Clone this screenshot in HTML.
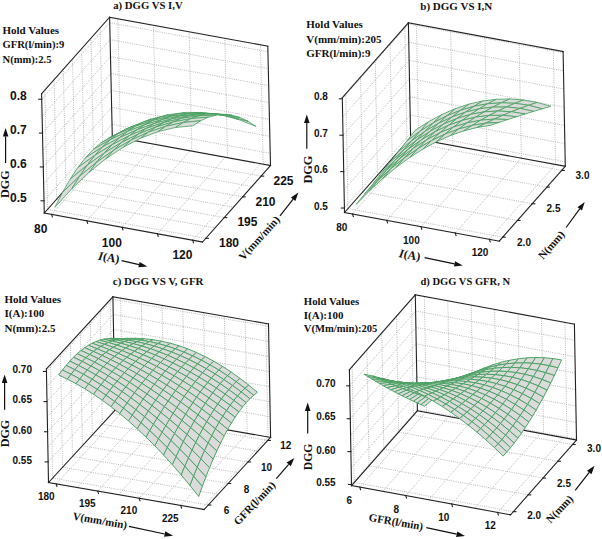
<!DOCTYPE html>
<html><head><meta charset="utf-8"><style>
html,body{margin:0;padding:0;background:#fff;width:602px;height:539px;overflow:hidden}
svg{display:block}
.g{stroke:#a8a8a8;stroke-width:0.8;stroke-dasharray:1 1.2;fill:none}
.e{stroke:#222;stroke-width:1.1;fill:none;stroke-linecap:square}
.s{fill:#dbdbdb;stroke:#48a060;stroke-width:0.95;stroke-linejoin:round}
.ar{stroke:#111;stroke-width:1.2}
.ah{fill:#111}
text{fill:#111}
</style></head><body>
<svg width="602" height="539" viewBox="0 0 602 539">
<line x1="51.58" y1="214.33" x2="119.58" y2="137.83" class="g"/>
<line x1="86.86" y1="220.8" x2="154.86" y2="144.3" class="g"/>
<line x1="122.13" y1="227.27" x2="190.13" y2="150.77" class="g"/>
<line x1="157.41" y1="233.74" x2="225.41" y2="157.24" class="g"/>
<line x1="192.69" y1="240.2" x2="260.69" y2="163.7" class="g"/>
<line x1="47.56" y1="209.33" x2="205.76" y2="238.33" class="g"/>
<line x1="56.78" y1="198.96" x2="214.98" y2="227.96" class="g"/>
<line x1="65.99" y1="188.6" x2="224.19" y2="217.6" class="g"/>
<line x1="75.21" y1="178.23" x2="233.41" y2="207.23" class="g"/>
<line x1="84.42" y1="167.87" x2="242.62" y2="196.87" class="g"/>
<line x1="93.63" y1="157.5" x2="251.83" y2="186.5" class="g"/>
<line x1="102.85" y1="147.13" x2="261.05" y2="176.13" class="g"/>
<line x1="120.47" y1="138" x2="117.77" y2="18.7" class="g"/>
<line x1="156.15" y1="144.54" x2="153.45" y2="25.24" class="g"/>
<line x1="191.83" y1="151.08" x2="189.13" y2="31.78" class="g"/>
<line x1="227.51" y1="157.62" x2="224.81" y2="38.32" class="g"/>
<line x1="263.19" y1="164.16" x2="260.49" y2="44.86" class="g"/>
<line x1="112.02" y1="124.28" x2="270.22" y2="153.28" class="g"/>
<line x1="111.64" y1="107.36" x2="269.84" y2="136.36" class="g"/>
<line x1="111.26" y1="90.44" x2="269.46" y2="119.44" class="g"/>
<line x1="110.87" y1="73.52" x2="269.07" y2="102.52" class="g"/>
<line x1="110.49" y1="56.59" x2="268.69" y2="85.59" class="g"/>
<line x1="110.11" y1="39.67" x2="268.31" y2="68.67" class="g"/>
<line x1="109.73" y1="22.75" x2="267.93" y2="51.75" class="g"/>
<line x1="47.56" y1="209.33" x2="44.86" y2="90.03" class="g"/>
<line x1="56.78" y1="198.96" x2="54.08" y2="79.66" class="g"/>
<line x1="65.99" y1="188.6" x2="63.29" y2="69.3" class="g"/>
<line x1="75.21" y1="178.23" x2="72.51" y2="58.93" class="g"/>
<line x1="84.42" y1="167.87" x2="81.72" y2="48.57" class="g"/>
<line x1="93.63" y1="157.5" x2="90.93" y2="38.2" class="g"/>
<line x1="102.85" y1="147.13" x2="100.15" y2="27.83" class="g"/>
<line x1="44.02" y1="200.78" x2="112.02" y2="124.28" class="g"/>
<line x1="43.64" y1="183.86" x2="111.64" y2="107.36" class="g"/>
<line x1="43.26" y1="166.94" x2="111.26" y2="90.44" class="g"/>
<line x1="42.87" y1="150.02" x2="110.87" y2="73.52" class="g"/>
<line x1="42.49" y1="133.09" x2="110.49" y2="56.59" class="g"/>
<line x1="42.11" y1="116.17" x2="110.11" y2="39.67" class="g"/>
<line x1="41.73" y1="99.25" x2="109.73" y2="22.75" class="g"/>
<line x1="41.6" y1="93.7" x2="44.3" y2="213" class="e"/>
<line x1="44.3" y1="213" x2="202.5" y2="242" class="e"/>
<line x1="202.5" y1="242" x2="270.5" y2="165.5" class="e"/>
<line x1="44.3" y1="213" x2="112.3" y2="136.5" class="e"/>
<line x1="112.3" y1="136.5" x2="109.6" y2="17.2" class="e"/>
<line x1="109.6" y1="17.2" x2="41.6" y2="93.7" class="e"/>
<line x1="109.6" y1="17.2" x2="267.8" y2="46.2" class="e"/>
<line x1="267.8" y1="46.2" x2="270.5" y2="165.5" class="e"/>
<line x1="112.3" y1="136.5" x2="270.5" y2="165.5" class="e"/>
<line x1="51.58" y1="214.33" x2="52.38" y2="216.93" class="e"/>
<line x1="86.86" y1="220.8" x2="87.66" y2="223.4" class="e"/>
<line x1="122.13" y1="227.27" x2="122.93" y2="229.87" class="e"/>
<line x1="157.41" y1="233.74" x2="158.21" y2="236.34" class="e"/>
<line x1="192.69" y1="240.2" x2="193.49" y2="242.8" class="e"/>
<line x1="205.76" y1="238.33" x2="208.36" y2="238.33" class="e"/>
<line x1="224.19" y1="217.6" x2="226.79" y2="217.6" class="e"/>
<line x1="242.62" y1="196.87" x2="245.22" y2="196.87" class="e"/>
<line x1="261.05" y1="176.13" x2="263.65" y2="176.13" class="e"/>
<line x1="44.02" y1="200.78" x2="41.02" y2="200.78" class="e"/>
<line x1="43.26" y1="166.94" x2="40.26" y2="166.94" class="e"/>
<line x1="42.49" y1="133.09" x2="39.49" y2="133.09" class="e"/>
<line x1="41.73" y1="99.25" x2="38.73" y2="99.25" class="e"/>
<g class="s" style="stroke-width:0.8">
<path d="M108.68,138.11L125.95,129.14L133.79,125.86L116.52,134.91Z"/>
<path d="M125.95,129.14L143.27,122.13L151.11,119.09L133.79,125.86Z"/>
<path d="M100.89,142.97L118.15,133.73L125.95,129.14L108.68,138.11Z"/>
<path d="M143.27,122.13L160.63,117.09L168.48,114.61L151.11,119.09Z"/>
<path d="M118.15,133.73L135.46,126.21L143.27,122.13L125.95,129.14Z"/>
<path d="M93.13,149.51L110.38,139.61L118.15,133.73L100.89,142.97Z"/>
<path d="M160.63,117.09L178.04,114L185.91,112.41L168.48,114.61Z"/>
<path d="M135.46,126.21L152.8,120.43L160.63,117.09L143.27,122.13Z"/>
<path d="M178.04,114L195.49,112.88L203.39,112.5L185.91,112.41Z"/>
<path d="M110.38,139.61L127.67,131.32L135.46,126.21L118.15,133.73Z"/>
<path d="M85.41,157.73L102.63,146.81L110.38,139.61L93.13,149.51Z"/>
<path d="M195.49,112.88L212.98,113.71L220.92,114.87L203.39,112.5Z"/>
<path d="M152.8,120.43L170.19,116.38L178.04,114L160.63,117.09Z"/>
<path d="M127.67,131.32L144.99,124.63L152.8,120.43L135.46,126.21Z"/>
<path d="M212.98,113.71L230.52,116.5L238.5,119.52L220.92,114.87Z"/>
<path d="M77.72,167.62L94.92,155.3L102.63,146.81L85.41,157.73Z"/>
<path d="M102.63,146.81L119.9,137.46L127.67,131.32L110.38,139.61Z"/>
<path d="M230.52,116.5L248.11,121.26L256.13,126.46L238.5,119.52Z"/>
<path d="M170.19,116.38L187.61,114.06L195.49,112.88L178.04,114Z"/>
<path d="M144.99,124.63L162.35,119.54L170.19,116.38L152.8,120.43Z"/>
<path d="M70.08,179.18L87.24,165.11L94.92,155.3L77.72,167.62Z"/>
<path d="M187.61,114.06L205.07,113.48L212.98,113.71L195.49,112.88Z"/>
<path d="M119.9,137.46L137.2,129.69L144.99,124.63L127.67,131.32Z"/>
<path d="M94.92,155.3L112.15,144.63L119.9,137.46L102.63,146.81Z"/>
<path d="M205.07,113.48L222.57,114.63L230.52,116.5L212.98,113.71Z"/>
<path d="M162.35,119.54L179.75,116.06L187.61,114.06L170.19,116.38Z"/>
<path d="M62.47,192.41L79.58,176.21L87.24,165.11L70.08,179.18Z"/>
<path d="M222.57,114.63L240.11,117.52L248.11,121.26L230.52,116.5Z"/>
<path d="M137.2,129.69L154.53,123.49L162.35,119.54L144.99,124.63Z"/>
<path d="M87.24,165.11L104.43,152.84L112.15,144.63L94.92,155.3Z"/>
<path d="M112.15,144.63L129.43,135.6L137.2,129.69L119.9,137.46Z"/>
<path d="M179.75,116.06L197.18,114.18L205.07,113.48L187.61,114.06Z"/>
<path d="M54.9,207.32L71.95,188.62L79.58,176.21L62.47,192.41Z"/>
<path d="M154.53,123.49L171.9,118.86L179.75,116.06L162.35,119.54Z"/>
<path d="M197.18,114.18L214.65,113.91L222.57,114.63L205.07,113.48Z"/>
<path d="M79.58,176.21L96.74,162.08L104.43,152.84L87.24,165.11Z"/>
<path d="M129.43,135.6L146.73,128.22L154.53,123.49L137.2,129.69Z"/>
<path d="M104.43,152.84L121.67,142.38L129.43,135.6L112.15,144.63Z"/>
<path d="M214.65,113.91L232.16,115.24L240.11,117.52L222.57,114.63Z"/>
<path d="M171.9,118.86L189.31,115.81L197.18,114.18L179.75,116.06Z"/>
<path d="M71.95,188.62L89.06,172.36L96.74,162.08L79.58,176.21Z"/>
<path d="M146.73,128.22L164.08,122.47L171.9,118.86L154.53,123.49Z"/>
<path d="M96.74,162.08L113.94,150.02L121.67,142.38L104.43,152.84Z"/>
<path d="M121.67,142.38L138.95,133.73L146.73,128.22L129.43,135.6Z"/>
<path d="M189.31,115.81L206.75,114.33L214.65,113.91L197.18,114.18Z"/>
<path d="M206.75,114.33L224.23,114.42L232.16,115.24L214.65,113.91Z"/>
<path d="M164.08,122.47L181.46,118.36L189.31,115.81L171.9,118.86Z"/>
<path d="M89.06,172.36L106.22,158.52L113.94,150.02L96.74,162.08Z"/>
<path d="M138.95,133.73L156.27,126.88L164.08,122.47L146.73,128.22Z"/>
<path d="M113.94,150.02L131.19,140.03L138.95,133.73L121.67,142.38Z"/>
<path d="M181.46,118.36L198.88,115.9L206.75,114.33L189.31,115.81Z"/>
<path d="M156.27,126.88L173.63,121.84L181.46,118.36L164.08,122.47Z"/>
<path d="M198.88,115.9L216.34,115.07L224.23,114.42L206.75,114.33Z"/>
<path d="M106.22,158.52L123.44,147.11L131.19,140.03L113.94,150.02Z"/>
<path d="M131.19,140.03L148.48,132.11L156.27,126.88L138.95,133.73Z"/>
<path d="M173.63,121.84L191.04,118.61L198.88,115.9L181.46,118.36Z"/>
<path d="M148.48,132.11L165.83,126.26L173.63,121.84L156.27,126.88Z"/>
<path d="M123.44,147.11L140.71,138.14L148.48,132.11L131.19,140.03Z"/>
<path d="M191.04,118.61L208.48,117.18L216.34,115.07L198.88,115.9Z"/>
<path d="M165.83,126.26L183.22,122.47L191.04,118.61L173.63,121.84Z"/>
<path d="M140.71,138.14L158.04,131.6L165.83,126.26L148.48,132.11Z"/>
<path d="M183.22,122.47L200.65,120.76L208.48,117.18L191.04,118.61Z"/>
<path d="M158.04,131.6L175.42,127.48L183.22,122.47L165.83,126.26Z"/>
<path d="M175.42,127.48L192.86,125.8L200.65,120.76L183.22,122.47Z"/>
</g>
<line x1="352.54" y1="213.99" x2="418.64" y2="139.19" class="g"/>
<line x1="386.77" y1="220.31" x2="452.87" y2="145.51" class="g"/>
<line x1="421" y1="226.64" x2="487.1" y2="151.84" class="g"/>
<line x1="455.23" y1="232.97" x2="521.33" y2="158.17" class="g"/>
<line x1="489.45" y1="239.3" x2="555.55" y2="164.5" class="g"/>
<line x1="348" y1="208.54" x2="502.7" y2="237.14" class="g"/>
<line x1="362.74" y1="191.86" x2="517.44" y2="220.46" class="g"/>
<line x1="377.48" y1="175.17" x2="532.18" y2="203.77" class="g"/>
<line x1="392.22" y1="158.49" x2="546.92" y2="187.09" class="g"/>
<line x1="406.96" y1="141.81" x2="561.66" y2="170.41" class="g"/>
<line x1="418.64" y1="139.19" x2="416.44" y2="24.39" class="g"/>
<line x1="452.87" y1="145.51" x2="450.67" y2="30.71" class="g"/>
<line x1="487.1" y1="151.84" x2="484.9" y2="37.04" class="g"/>
<line x1="521.33" y1="158.17" x2="519.13" y2="43.37" class="g"/>
<line x1="555.55" y1="164.5" x2="553.35" y2="49.7" class="g"/>
<line x1="410.51" y1="133.22" x2="565.21" y2="161.82" class="g"/>
<line x1="410.17" y1="115.02" x2="564.87" y2="143.62" class="g"/>
<line x1="409.82" y1="96.82" x2="564.52" y2="125.42" class="g"/>
<line x1="409.47" y1="78.63" x2="564.17" y2="107.23" class="g"/>
<line x1="409.12" y1="60.43" x2="563.82" y2="89.03" class="g"/>
<line x1="408.77" y1="42.23" x2="563.47" y2="70.83" class="g"/>
<line x1="408.42" y1="24.03" x2="563.12" y2="52.63" class="g"/>
<line x1="348" y1="208.54" x2="345.8" y2="93.74" class="g"/>
<line x1="362.74" y1="191.86" x2="360.54" y2="77.06" class="g"/>
<line x1="377.48" y1="175.17" x2="375.28" y2="60.37" class="g"/>
<line x1="392.22" y1="158.49" x2="390.02" y2="43.69" class="g"/>
<line x1="406.96" y1="141.81" x2="404.76" y2="27.01" class="g"/>
<line x1="344.41" y1="208.02" x2="410.51" y2="133.22" class="g"/>
<line x1="344.07" y1="189.82" x2="410.17" y2="115.02" class="g"/>
<line x1="343.72" y1="171.62" x2="409.82" y2="96.82" class="g"/>
<line x1="343.37" y1="153.43" x2="409.47" y2="78.63" class="g"/>
<line x1="343.02" y1="135.23" x2="409.12" y2="60.43" class="g"/>
<line x1="342.67" y1="117.03" x2="408.77" y2="42.23" class="g"/>
<line x1="342.32" y1="98.83" x2="408.42" y2="24.03" class="g"/>
<line x1="342.3" y1="97.7" x2="344.5" y2="212.5" class="e"/>
<line x1="344.5" y1="212.5" x2="499.2" y2="241.1" class="e"/>
<line x1="499.2" y1="241.1" x2="565.3" y2="166.3" class="e"/>
<line x1="344.5" y1="212.5" x2="410.6" y2="137.7" class="e"/>
<line x1="410.6" y1="137.7" x2="408.4" y2="22.9" class="e"/>
<line x1="408.4" y1="22.9" x2="342.3" y2="97.7" class="e"/>
<line x1="408.4" y1="22.9" x2="563.1" y2="51.5" class="e"/>
<line x1="563.1" y1="51.5" x2="565.3" y2="166.3" class="e"/>
<line x1="410.6" y1="137.7" x2="565.3" y2="166.3" class="e"/>
<line x1="352.54" y1="213.99" x2="353.34" y2="216.59" class="e"/>
<line x1="386.77" y1="220.31" x2="387.57" y2="222.91" class="e"/>
<line x1="421" y1="226.64" x2="421.8" y2="229.24" class="e"/>
<line x1="455.23" y1="232.97" x2="456.03" y2="235.57" class="e"/>
<line x1="489.45" y1="239.3" x2="490.25" y2="241.9" class="e"/>
<line x1="502.7" y1="237.14" x2="505.3" y2="237.14" class="e"/>
<line x1="517.44" y1="220.46" x2="520.04" y2="220.46" class="e"/>
<line x1="532.18" y1="203.77" x2="534.78" y2="203.77" class="e"/>
<line x1="546.92" y1="187.09" x2="549.52" y2="187.09" class="e"/>
<line x1="561.66" y1="170.41" x2="564.26" y2="170.41" class="e"/>
<line x1="344.41" y1="208.02" x2="341.41" y2="208.02" class="e"/>
<line x1="343.72" y1="171.62" x2="340.72" y2="171.62" class="e"/>
<line x1="343.02" y1="135.23" x2="340.02" y2="135.23" class="e"/>
<line x1="342.32" y1="98.83" x2="339.32" y2="98.83" class="e"/>
<g class="s" style="stroke-width:0.85">
<path d="M406.76,141.05L420.18,131.11L428.64,121.63L415.19,130.25Z"/>
<path d="M420.18,131.11L433.63,122.66L442.11,114.39L428.64,121.63Z"/>
<path d="M398.33,151.79L411.73,140.73L420.18,131.11L406.76,141.05Z"/>
<path d="M433.63,122.66L447.11,115.7L455.61,108.54L442.11,114.39Z"/>
<path d="M411.73,140.73L425.16,131.22L433.63,122.66L420.18,131.11Z"/>
<path d="M389.89,162.46L403.28,150.48L411.73,140.73L398.33,151.79Z"/>
<path d="M447.11,115.7L460.62,110.24L469.13,104.07L455.61,108.54Z"/>
<path d="M425.16,131.22L438.62,123.28L447.11,115.7L433.63,122.66Z"/>
<path d="M381.46,173.06L394.83,160.36L403.28,150.48L389.89,162.46Z"/>
<path d="M403.28,150.48L416.69,140.08L425.16,131.22L411.73,140.73Z"/>
<path d="M460.62,110.24L474.15,106.26L482.69,100.98L469.13,104.07Z"/>
<path d="M438.62,123.28L452.11,116.89L460.62,110.24L447.11,115.7Z"/>
<path d="M474.15,106.26L487.71,103.78L496.27,99.28L482.69,100.98Z"/>
<path d="M416.69,140.08L430.13,131.26L438.62,123.28L425.16,131.22Z"/>
<path d="M373.02,183.6L386.38,170.38L394.83,160.36L381.46,173.06Z"/>
<path d="M394.83,160.36L408.23,149.23L416.69,140.08L403.28,150.48Z"/>
<path d="M487.71,103.78L501.31,102.8L509.87,98.95L496.27,99.28Z"/>
<path d="M452.11,116.89L465.62,112.07L474.15,106.26L460.62,110.24Z"/>
<path d="M501.31,102.8L514.93,103.3L523.5,100.02L509.87,98.95Z"/>
<path d="M430.13,131.26L443.6,124.04L452.11,116.89L438.62,123.28Z"/>
<path d="M364.59,194.06L377.94,180.53L386.38,170.38L373.02,183.6Z"/>
<path d="M465.62,112.07L479.17,108.81L487.71,103.78L474.15,106.26Z"/>
<path d="M408.23,149.23L421.65,139.66L430.13,131.26L416.69,140.08Z"/>
<path d="M514.93,103.3L528.58,105.3L537.16,102.46L523.5,100.02Z"/>
<path d="M386.38,170.38L399.77,158.67L408.23,149.23L394.83,160.36Z"/>
<path d="M528.58,105.3L542.26,108.79L550.85,106.29L537.16,102.46Z"/>
<path d="M443.6,124.04L457.11,118.4L465.62,112.07L452.11,116.89Z"/>
<path d="M479.17,108.81L492.75,107.11L501.31,102.8L487.71,103.78Z"/>
<path d="M421.65,139.66L435.11,131.67L443.6,124.04L430.13,131.26Z"/>
<path d="M356.15,204.46L369.5,190.81L377.94,180.53L364.59,194.06Z"/>
<path d="M492.75,107.11L506.36,106.97L514.93,103.3L501.31,102.8Z"/>
<path d="M399.77,158.67L413.19,148.48L421.65,139.66L408.23,149.23Z"/>
<path d="M377.94,180.53L391.32,168.41L399.77,158.67L386.38,170.38Z"/>
<path d="M457.11,118.4L470.64,114.35L479.17,108.81L465.62,112.07Z"/>
<path d="M506.36,106.97L520,108.39L528.58,105.3L514.93,103.3Z"/>
<path d="M435.11,131.67L448.6,125.25L457.11,118.4L443.6,124.04Z"/>
<path d="M520,108.39L533.67,111.37L542.26,108.79L528.58,105.3Z"/>
<path d="M470.64,114.35L484.21,111.88L492.75,107.11L479.17,108.81Z"/>
<path d="M413.19,148.48L426.63,139.8L435.11,131.67L421.65,139.66Z"/>
<path d="M369.5,190.81L382.87,178.44L391.32,168.41L377.94,180.53Z"/>
<path d="M391.32,168.41L404.73,157.7L413.19,148.48L399.77,158.67Z"/>
<path d="M484.21,111.88L497.8,111L506.36,106.97L492.75,107.11Z"/>
<path d="M448.6,125.25L462.12,120.4L470.64,114.35L457.11,118.4Z"/>
<path d="M497.8,111L511.43,111.71L520,108.39L506.36,106.97Z"/>
<path d="M426.63,139.8L440.11,132.63L448.6,125.25L435.11,131.67Z"/>
<path d="M404.73,157.7L418.16,148.41L426.63,139.8L413.19,148.48Z"/>
<path d="M462.12,120.4L475.67,117.12L484.21,111.88L470.64,114.35Z"/>
<path d="M511.43,111.71L525.08,114.01L533.67,111.37L520,108.39Z"/>
<path d="M382.87,178.44L396.27,167.34L404.73,157.7L391.32,168.41Z"/>
<path d="M440.11,132.63L453.61,126.97L462.12,120.4L448.6,125.25Z"/>
<path d="M475.67,117.12L489.25,115.42L497.8,111L484.21,111.88Z"/>
<path d="M418.16,148.41L431.62,140.53L440.11,132.63L426.63,139.8Z"/>
<path d="M489.25,115.42L502.86,115.28L511.43,111.71L497.8,111Z"/>
<path d="M396.27,167.34L409.7,157.51L418.16,148.41L404.73,157.7Z"/>
<path d="M453.61,126.97L467.14,122.83L475.67,117.12L462.12,120.4Z"/>
<path d="M502.86,115.28L516.5,116.71L525.08,114.01L511.43,111.71Z"/>
<path d="M431.62,140.53L445.11,134.06L453.61,126.97L440.11,132.63Z"/>
<path d="M467.14,122.83L480.7,120.21L489.25,115.42L475.67,117.12Z"/>
<path d="M409.7,157.51L423.14,148.95L431.62,140.53L418.16,148.41Z"/>
<path d="M480.7,120.21L494.29,119.09L502.86,115.28L489.25,115.42Z"/>
<path d="M445.11,134.06L458.62,129.01L467.14,122.83L453.61,126.97Z"/>
<path d="M494.29,119.09L507.91,119.49L516.5,116.71L502.86,115.28Z"/>
<path d="M423.14,148.95L436.62,141.66L445.11,134.06L431.62,140.53Z"/>
<path d="M458.62,129.01L472.16,125.37L480.7,120.21L467.14,122.83Z"/>
<path d="M436.62,141.66L450.11,135.65L458.62,129.01L445.11,134.06Z"/>
<path d="M472.16,125.37L485.73,123.15L494.29,119.09L480.7,120.21Z"/>
<path d="M485.73,123.15L499.33,122.34L507.91,119.49L494.29,119.09Z"/>
<path d="M450.11,135.65L463.63,130.91L472.16,125.37L458.62,129.01Z"/>
<path d="M463.63,130.91L477.18,127.44L485.73,123.15L472.16,125.37Z"/>
<path d="M477.18,127.44L490.75,125.25L499.33,122.34L485.73,123.15Z"/>
</g>
<line x1="56.2" y1="483.84" x2="122.7" y2="411.74" class="g"/>
<line x1="76.96" y1="487.44" x2="143.46" y2="415.34" class="g"/>
<line x1="97.71" y1="491.04" x2="164.21" y2="418.94" class="g"/>
<line x1="118.46" y1="494.64" x2="184.96" y2="422.54" class="g"/>
<line x1="139.21" y1="498.24" x2="205.71" y2="426.14" class="g"/>
<line x1="159.97" y1="501.84" x2="226.47" y2="429.74" class="g"/>
<line x1="180.72" y1="505.44" x2="247.22" y2="433.34" class="g"/>
<line x1="201.47" y1="509.04" x2="267.97" y2="436.94" class="g"/>
<line x1="52.62" y1="478.03" x2="208.22" y2="505.03" class="g"/>
<line x1="62.55" y1="467.26" x2="218.15" y2="494.26" class="g"/>
<line x1="72.48" y1="456.5" x2="228.08" y2="483.5" class="g"/>
<line x1="82.41" y1="445.73" x2="238.01" y2="472.73" class="g"/>
<line x1="92.35" y1="434.96" x2="247.95" y2="461.96" class="g"/>
<line x1="102.28" y1="424.2" x2="257.88" y2="451.2" class="g"/>
<line x1="112.21" y1="413.43" x2="267.81" y2="440.43" class="g"/>
<line x1="122.7" y1="411.74" x2="120.6" y2="298.24" class="g"/>
<line x1="143.46" y1="415.34" x2="141.36" y2="301.84" class="g"/>
<line x1="164.21" y1="418.94" x2="162.11" y2="305.44" class="g"/>
<line x1="184.96" y1="422.54" x2="182.86" y2="309.04" class="g"/>
<line x1="205.71" y1="426.14" x2="203.61" y2="312.64" class="g"/>
<line x1="226.47" y1="429.74" x2="224.37" y2="316.24" class="g"/>
<line x1="247.22" y1="433.34" x2="245.12" y2="319.84" class="g"/>
<line x1="267.97" y1="436.94" x2="265.87" y2="323.44" class="g"/>
<line x1="114.62" y1="389.79" x2="270.22" y2="416.79" class="g"/>
<line x1="114.34" y1="374.72" x2="269.94" y2="401.72" class="g"/>
<line x1="114.06" y1="359.65" x2="269.66" y2="386.65" class="g"/>
<line x1="113.78" y1="344.58" x2="269.38" y2="371.58" class="g"/>
<line x1="113.5" y1="329.51" x2="269.1" y2="356.51" class="g"/>
<line x1="113.22" y1="314.44" x2="268.82" y2="341.44" class="g"/>
<line x1="112.95" y1="299.37" x2="268.55" y2="326.37" class="g"/>
<line x1="52.62" y1="478.03" x2="50.52" y2="364.53" class="g"/>
<line x1="62.55" y1="467.26" x2="60.45" y2="353.76" class="g"/>
<line x1="72.48" y1="456.5" x2="70.38" y2="343" class="g"/>
<line x1="82.41" y1="445.73" x2="80.31" y2="332.23" class="g"/>
<line x1="92.35" y1="434.96" x2="90.25" y2="321.46" class="g"/>
<line x1="102.28" y1="424.2" x2="100.18" y2="310.7" class="g"/>
<line x1="112.21" y1="413.43" x2="110.11" y2="299.93" class="g"/>
<line x1="48.12" y1="461.89" x2="114.62" y2="389.79" class="g"/>
<line x1="47.84" y1="446.82" x2="114.34" y2="374.72" class="g"/>
<line x1="47.56" y1="431.75" x2="114.06" y2="359.65" class="g"/>
<line x1="47.28" y1="416.68" x2="113.78" y2="344.58" class="g"/>
<line x1="47" y1="401.61" x2="113.5" y2="329.51" class="g"/>
<line x1="46.72" y1="386.54" x2="113.22" y2="314.44" class="g"/>
<line x1="46.45" y1="371.47" x2="112.95" y2="299.37" class="g"/>
<line x1="46.4" y1="369" x2="48.5" y2="482.5" class="e"/>
<line x1="48.5" y1="482.5" x2="204.1" y2="509.5" class="e"/>
<line x1="204.1" y1="509.5" x2="270.6" y2="437.4" class="e"/>
<line x1="48.5" y1="482.5" x2="115" y2="410.4" class="e"/>
<line x1="115" y1="410.4" x2="112.9" y2="296.9" class="e"/>
<line x1="112.9" y1="296.9" x2="46.4" y2="369" class="e"/>
<line x1="112.9" y1="296.9" x2="268.5" y2="323.9" class="e"/>
<line x1="268.5" y1="323.9" x2="270.6" y2="437.4" class="e"/>
<line x1="115" y1="410.4" x2="270.6" y2="437.4" class="e"/>
<line x1="56.2" y1="483.84" x2="57" y2="486.44" class="e"/>
<line x1="97.71" y1="491.04" x2="98.51" y2="493.64" class="e"/>
<line x1="139.21" y1="498.24" x2="140.01" y2="500.84" class="e"/>
<line x1="180.72" y1="505.44" x2="181.52" y2="508.04" class="e"/>
<line x1="208.22" y1="505.03" x2="210.82" y2="505.03" class="e"/>
<line x1="228.08" y1="483.5" x2="230.68" y2="483.5" class="e"/>
<line x1="247.95" y1="461.96" x2="250.55" y2="461.96" class="e"/>
<line x1="267.81" y1="440.43" x2="270.41" y2="440.43" class="e"/>
<line x1="48.12" y1="461.89" x2="45.12" y2="461.89" class="e"/>
<line x1="47.56" y1="431.75" x2="44.56" y2="431.75" class="e"/>
<line x1="47" y1="401.61" x2="44" y2="401.61" class="e"/>
<line x1="46.45" y1="371.47" x2="43.45" y2="371.47" class="e"/>
<g class="s">
<path d="M114.83,338.47L123.44,338.56L127.23,338.35L118.63,338.96Z"/>
<path d="M123.44,338.56L132.06,339.12L135.84,338.28L127.23,338.35Z"/>
<path d="M132.06,339.12L140.69,340.13L144.45,338.73L135.84,338.28Z"/>
<path d="M111.04,338.35L119.67,339.08L123.44,338.56L114.83,338.47Z"/>
<path d="M140.69,340.13L149.33,341.61L153.08,339.7L144.45,338.73Z"/>
<path d="M119.67,339.08L128.3,340.22L132.06,339.12L123.44,338.56Z"/>
<path d="M149.33,341.61L157.98,343.54L161.72,341.2L153.08,339.7Z"/>
<path d="M157.98,343.54L166.63,345.94L170.37,343.22L161.72,341.2Z"/>
<path d="M128.3,340.22L136.94,341.77L140.69,340.13L132.06,339.12Z"/>
<path d="M166.63,345.94L175.29,348.8L179.02,345.77L170.37,343.22Z"/>
<path d="M107.26,338.59L115.89,339.92L119.67,339.08L111.04,338.35Z"/>
<path d="M136.94,341.77L145.58,343.72L149.33,341.61L140.69,340.13Z"/>
<path d="M175.29,348.8L183.97,352.12L187.69,348.84L179.02,345.77Z"/>
<path d="M244.9,388.25L253.64,395.26L257.38,392.29L248.63,385.02Z"/>
<path d="M183.97,352.12L192.65,355.9L196.37,352.43L187.69,348.84Z"/>
<path d="M145.58,343.72L154.24,346.07L157.98,343.54L149.33,341.61Z"/>
<path d="M236.17,381.71L244.9,388.25L248.63,385.02L239.9,378.28Z"/>
<path d="M115.89,339.92L124.54,341.6L128.3,340.22L119.67,339.08Z"/>
<path d="M192.65,355.9L201.33,360.14L205.05,356.55L196.37,352.43Z"/>
<path d="M227.45,375.62L236.17,381.71L239.9,378.28L231.17,372.06Z"/>
<path d="M201.33,360.14L210.03,364.84L213.75,361.2L205.05,356.55Z"/>
<path d="M218.74,370L227.45,375.62L231.17,372.06L222.46,366.37Z"/>
<path d="M210.03,364.84L218.74,370L222.46,366.37L213.75,361.2Z"/>
<path d="M154.24,346.07L162.9,348.83L166.63,345.94L157.98,343.54Z"/>
<path d="M124.54,341.6L133.18,343.63L136.94,341.77L128.3,340.22Z"/>
<path d="M162.9,348.83L171.57,351.99L175.29,348.8L166.63,345.94Z"/>
<path d="M171.57,351.99L180.24,355.56L183.97,352.12L175.29,348.8Z"/>
<path d="M133.18,343.63L141.84,346.03L145.58,343.72L136.94,341.77Z"/>
<path d="M241.18,391.89L249.92,398.7L253.64,395.26L244.9,388.25Z"/>
<path d="M103.48,339.2L112.13,341.06L115.89,339.92L107.26,338.59Z"/>
<path d="M180.24,355.56L188.93,359.54L192.65,355.9L183.97,352.12Z"/>
<path d="M232.46,385.48L241.18,391.89L244.9,388.25L236.17,381.71Z"/>
<path d="M188.93,359.54L197.62,363.92L201.33,360.14L192.65,355.9Z"/>
<path d="M141.84,346.03L150.5,348.78L154.24,346.07L145.58,343.72Z"/>
<path d="M223.73,379.48L232.46,385.48L236.17,381.71L227.45,375.62Z"/>
<path d="M197.62,363.92L206.31,368.7L210.03,364.84L201.33,360.14Z"/>
<path d="M215.02,373.89L223.73,379.48L227.45,375.62L218.74,370Z"/>
<path d="M206.31,368.7L215.02,373.89L218.74,370L210.03,364.84Z"/>
<path d="M112.13,341.06L120.78,343.23L124.54,341.6L115.89,339.92Z"/>
<path d="M150.5,348.78L159.17,351.88L162.9,348.83L154.24,346.07Z"/>
<path d="M159.17,351.88L167.84,355.35L171.57,351.99L162.9,348.83Z"/>
<path d="M120.78,343.23L129.44,345.73L133.18,343.63L124.54,341.6Z"/>
<path d="M167.84,355.35L176.52,359.17L180.24,355.56L171.57,351.99Z"/>
<path d="M237.47,395.93L246.2,402.61L249.92,398.7L241.18,391.89Z"/>
<path d="M129.44,345.73L138.1,348.53L141.84,346.03L133.18,343.63Z"/>
<path d="M176.52,359.17L185.21,363.35L188.93,359.54L180.24,355.56Z"/>
<path d="M228.74,389.61L237.47,395.93L241.18,391.89L232.46,385.48Z"/>
<path d="M185.21,363.35L193.9,367.89L197.62,363.92L188.93,359.54Z"/>
<path d="M220.02,383.64L228.74,389.61L232.46,385.48L223.73,379.48Z"/>
<path d="M193.9,367.89L202.6,372.78L206.31,368.7L197.62,363.92Z"/>
<path d="M211.31,378.03L220.02,383.64L223.73,379.48L215.02,373.89Z"/>
<path d="M202.6,372.78L211.31,378.03L215.02,373.89L206.31,368.7Z"/>
<path d="M99.72,340.18L108.37,342.52L112.13,341.06L103.48,339.2Z"/>
<path d="M138.1,348.53L146.76,351.66L150.5,348.78L141.84,346.03Z"/>
<path d="M146.76,351.66L155.44,355.1L159.17,351.88L150.5,348.78Z"/>
<path d="M108.37,342.52L117.03,345.14L120.78,343.23L112.13,341.06Z"/>
<path d="M155.44,355.1L164.12,358.86L167.84,355.35L159.17,351.88Z"/>
<path d="M233.77,400.37L242.5,406.99L246.2,402.61L237.47,395.93Z"/>
<path d="M164.12,358.86L172.8,362.94L176.52,359.17L167.84,355.35Z"/>
<path d="M117.03,345.14L125.69,348.05L129.44,345.73L120.78,343.23Z"/>
<path d="M225.04,394.07L233.77,400.37L237.47,395.93L228.74,389.61Z"/>
<path d="M172.8,362.94L181.49,367.34L185.21,363.35L176.52,359.17Z"/>
<path d="M216.32,388.09L225.04,394.07L228.74,389.61L220.02,383.64Z"/>
<path d="M181.49,367.34L190.19,372.05L193.9,367.89L185.21,363.35Z"/>
<path d="M207.6,382.43L216.32,388.09L220.02,383.64L211.31,378.03Z"/>
<path d="M190.19,372.05L198.9,377.08L202.6,372.78L193.9,367.89Z"/>
<path d="M125.69,348.05L134.36,351.24L138.1,348.53L129.44,345.73Z"/>
<path d="M198.9,377.08L207.6,382.43L211.31,378.03L202.6,372.78Z"/>
<path d="M134.36,351.24L143.03,354.72L146.76,351.66L138.1,348.53Z"/>
<path d="M95.95,341.52L104.61,344.29L108.37,342.52L99.72,340.18Z"/>
<path d="M143.03,354.72L151.71,358.49L155.44,355.1L146.76,351.66Z"/>
<path d="M230.07,405.23L238.8,411.85L242.5,406.99L233.77,400.37Z"/>
<path d="M151.71,358.49L160.4,362.54L164.12,358.86L155.44,355.1Z"/>
<path d="M104.61,344.29L113.28,347.31L117.03,345.14L108.37,342.52Z"/>
<path d="M221.34,398.89L230.07,405.23L233.77,400.37L225.04,394.07Z"/>
<path d="M160.4,362.54L169.09,366.88L172.8,362.94L164.12,358.86Z"/>
<path d="M212.62,392.84L221.34,398.89L225.04,394.07L216.32,388.09Z"/>
<path d="M169.09,366.88L177.78,371.5L181.49,367.34L172.8,362.94Z"/>
<path d="M203.9,387.08L212.62,392.84L216.32,388.09L207.6,382.43Z"/>
<path d="M177.78,371.5L186.49,376.4L190.19,372.05L181.49,367.34Z"/>
<path d="M113.28,347.31L121.95,350.6L125.69,348.05L117.03,345.14Z"/>
<path d="M195.19,381.6L203.9,387.08L207.6,382.43L198.9,377.08Z"/>
<path d="M186.49,376.4L195.19,381.6L198.9,377.08L190.19,372.05Z"/>
<path d="M121.95,350.6L130.63,354.15L134.36,351.24L125.69,348.05Z"/>
<path d="M130.63,354.15L139.31,357.96L143.03,354.72L134.36,351.24Z"/>
<path d="M226.38,410.49L235.11,417.18L238.8,411.85L230.07,405.23Z"/>
<path d="M139.31,357.96L147.99,362.04L151.71,358.49L143.03,354.72Z"/>
<path d="M217.65,404.06L226.38,410.49L230.07,405.23L221.34,398.89Z"/>
<path d="M92.2,343.23L100.87,346.37L104.61,344.29L95.95,341.52Z"/>
<path d="M147.99,362.04L156.68,366.37L160.4,362.54L151.71,358.49Z"/>
<path d="M208.93,397.89L217.65,404.06L221.34,398.89L212.62,392.84Z"/>
<path d="M156.68,366.37L165.38,370.97L169.09,366.88L160.4,362.54Z"/>
<path d="M200.21,391.98L208.93,397.89L212.62,392.84L203.9,387.08Z"/>
<path d="M165.38,370.97L174.08,375.83L177.78,371.5L169.09,366.88Z"/>
<path d="M191.49,386.34L200.21,391.98L203.9,387.08L195.19,381.6Z"/>
<path d="M174.08,375.83L182.78,380.95L186.49,376.4L177.78,371.5Z"/>
<path d="M100.87,346.37L109.54,349.75L113.28,347.31L104.61,344.29Z"/>
<path d="M182.78,380.95L191.49,386.34L195.19,381.6L186.49,376.4Z"/>
<path d="M109.54,349.75L118.21,353.38L121.95,350.6L113.28,347.31Z"/>
<path d="M222.7,416.15L231.43,422.98L235.11,417.18L226.38,410.49Z"/>
<path d="M118.21,353.38L126.9,357.26L130.63,354.15L121.95,350.6Z"/>
<path d="M213.96,409.57L222.7,416.15L226.38,410.49L217.65,404.06Z"/>
<path d="M126.9,357.26L135.58,361.38L139.31,357.96L130.63,354.15Z"/>
<path d="M205.24,403.23L213.96,409.57L217.65,404.06L208.93,397.89Z"/>
<path d="M135.58,361.38L144.27,365.75L147.99,362.04L139.31,357.96Z"/>
<path d="M196.51,397.14L205.24,403.23L208.93,397.89L200.21,391.98Z"/>
<path d="M144.27,365.75L152.97,370.37L156.68,366.37L147.99,362.04Z"/>
<path d="M187.8,391.29L196.51,397.14L200.21,391.98L191.49,386.34Z"/>
<path d="M152.97,370.37L161.67,375.23L165.38,370.97L156.68,366.37Z"/>
<path d="M179.08,385.69L187.8,391.29L191.49,386.34L182.78,380.95Z"/>
<path d="M161.67,375.23L170.37,380.34L174.08,375.83L165.38,370.97Z"/>
<path d="M170.37,380.34L179.08,385.69L182.78,380.95L174.08,375.83Z"/>
<path d="M88.45,345.3L97.12,348.76L100.87,346.37L92.2,343.23Z"/>
<path d="M219.02,422.22L227.76,429.26L231.43,422.98L222.7,416.15Z"/>
<path d="M97.12,348.76L105.8,352.46L109.54,349.75L100.87,346.37Z"/>
<path d="M210.29,415.43L219.02,422.22L222.7,416.15L213.96,409.57Z"/>
<path d="M105.8,352.46L114.48,356.4L118.21,353.38L109.54,349.75Z"/>
<path d="M201.55,408.87L210.29,415.43L213.96,409.57L205.24,403.23Z"/>
<path d="M114.48,356.4L123.17,360.57L126.9,357.26L118.21,353.38Z"/>
<path d="M192.83,402.55L201.55,408.87L205.24,403.23L196.51,397.14Z"/>
<path d="M123.17,360.57L131.86,364.98L135.58,361.38L126.9,357.26Z"/>
<path d="M184.1,396.47L192.83,402.55L196.51,397.14L187.8,391.29Z"/>
<path d="M131.86,364.98L140.56,369.64L144.27,365.75L135.58,361.38Z"/>
<path d="M175.39,390.62L184.1,396.47L187.8,391.29L179.08,385.69Z"/>
<path d="M140.56,369.64L149.26,374.53L152.97,370.37L144.27,365.75Z"/>
<path d="M166.67,385.02L175.39,390.62L179.08,385.69L170.37,380.34Z"/>
<path d="M149.26,374.53L157.96,379.65L161.67,375.23L152.97,370.37Z"/>
<path d="M157.96,379.65L166.67,385.02L170.37,380.34L161.67,375.23Z"/>
<path d="M215.35,428.7L224.1,436L227.76,429.26L219.02,422.22Z"/>
<path d="M206.61,421.63L215.35,428.7L219.02,422.22L210.29,415.43Z"/>
<path d="M84.71,347.74L93.38,351.47L97.12,348.76L88.45,345.3Z"/>
<path d="M197.88,414.8L206.61,421.63L210.29,415.43L201.55,408.87Z"/>
<path d="M93.38,351.47L102.07,355.43L105.8,352.46L97.12,348.76Z"/>
<path d="M189.15,408.21L197.88,414.8L201.55,408.87L192.83,402.55Z"/>
<path d="M102.07,355.43L110.76,359.64L114.48,356.4L105.8,352.46Z"/>
<path d="M211.69,435.58L220.45,443.23L224.1,436L215.35,428.7Z"/>
<path d="M180.42,401.86L189.15,408.21L192.83,402.55L184.1,396.47Z"/>
<path d="M110.76,359.64L119.45,364.08L123.17,360.57L114.48,356.4Z"/>
<path d="M171.69,395.75L180.42,401.86L184.1,396.47L175.39,390.62Z"/>
<path d="M119.45,364.08L128.14,368.76L131.86,364.98L123.17,360.57Z"/>
<path d="M162.98,389.87L171.69,395.75L175.39,390.62L166.67,385.02Z"/>
<path d="M128.14,368.76L136.85,373.68L140.56,369.64L131.86,364.98Z"/>
<path d="M154.26,384.24L162.98,389.87L166.67,385.02L157.96,379.65Z"/>
<path d="M136.85,373.68L145.55,378.84L149.26,374.53L140.56,369.64Z"/>
<path d="M202.95,428.19L211.69,435.58L215.35,428.7L206.61,421.63Z"/>
<path d="M145.55,378.84L154.26,384.24L157.96,379.65L149.26,374.53Z"/>
<path d="M194.2,421.04L202.95,428.19L206.61,421.63L197.88,414.8Z"/>
<path d="M208.04,442.87L216.8,450.92L220.45,443.23L211.69,435.58Z"/>
<path d="M185.47,414.13L194.2,421.04L197.88,414.8L189.15,408.21Z"/>
<path d="M80.97,350.54L89.65,354.48L93.38,351.47L84.71,347.74Z"/>
<path d="M176.73,407.48L185.47,414.13L189.15,408.21L180.42,401.86Z"/>
<path d="M89.65,354.48L98.34,358.67L102.07,355.43L93.38,351.47Z"/>
<path d="M199.29,435.09L208.04,442.87L211.69,435.58L202.95,428.19Z"/>
<path d="M168.01,401.07L176.73,407.48L180.42,401.86L171.69,395.75Z"/>
<path d="M98.34,358.67L107.03,363.11L110.76,359.64L102.07,355.43Z"/>
<path d="M159.28,394.9L168.01,401.07L171.69,395.75L162.98,389.87Z"/>
<path d="M107.03,363.11L115.73,367.79L119.45,364.08L110.76,359.64Z"/>
<path d="M150.56,388.99L159.28,394.9L162.98,389.87L154.26,384.24Z"/>
<path d="M115.73,367.79L124.43,372.72L128.14,368.76L119.45,364.08Z"/>
<path d="M190.54,427.56L199.29,435.09L202.95,428.19L194.2,421.04Z"/>
<path d="M204.4,450.57L213.16,459.09L216.8,450.92L208.04,442.87Z"/>
<path d="M141.85,383.32L150.56,388.99L154.26,384.24L145.55,378.84Z"/>
<path d="M124.43,372.72L133.14,377.9L136.85,373.68L128.14,368.76Z"/>
<path d="M133.14,377.9L141.85,383.32L145.55,378.84L136.85,373.68Z"/>
<path d="M181.79,420.31L190.54,427.56L194.2,421.04L185.47,414.13Z"/>
<path d="M195.63,442.33L204.4,450.57L208.04,442.87L199.29,435.09Z"/>
<path d="M173.05,413.31L181.79,420.31L185.47,414.13L176.73,407.48Z"/>
<path d="M200.76,458.67L209.54,467.73L213.16,459.09L204.4,450.57Z"/>
<path d="M164.32,406.58L173.05,413.31L176.73,407.48L168.01,401.07Z"/>
<path d="M186.88,434.39L195.63,442.33L199.29,435.09L190.54,427.56Z"/>
<path d="M77.24,353.71L85.93,357.81L89.65,354.48L80.97,350.54Z"/>
<path d="M155.59,400.11L164.32,406.58L168.01,401.07L159.28,394.9Z"/>
<path d="M85.93,357.81L94.62,362.18L98.34,358.67L89.65,354.48Z"/>
<path d="M146.87,393.9L155.59,400.11L159.28,394.9L150.56,388.99Z"/>
<path d="M94.62,362.18L103.31,366.81L107.03,363.11L98.34,358.67Z"/>
<path d="M191.99,449.93L200.76,458.67L204.4,450.57L195.63,442.33Z"/>
<path d="M138.15,387.95L146.87,393.9L150.56,388.99L141.85,383.32Z"/>
<path d="M178.13,426.73L186.88,434.39L190.54,427.56L181.79,420.31Z"/>
<path d="M103.31,366.81L112.01,371.7L115.73,367.79L107.03,363.11Z"/>
<path d="M129.43,382.27L138.15,387.95L141.85,383.32L133.14,377.9Z"/>
<path d="M197.13,467.18L205.92,476.84L209.54,467.73L200.76,458.67Z"/>
<path d="M112.01,371.7L120.72,376.86L124.43,372.72L115.73,367.79Z"/>
<path d="M120.72,376.86L129.43,382.27L133.14,377.9L124.43,372.72Z"/>
<path d="M169.38,419.36L178.13,426.73L181.79,420.31L173.05,413.31Z"/>
<path d="M183.22,441.51L191.99,449.93L195.63,442.33L186.88,434.39Z"/>
<path d="M160.64,412.28L169.38,419.36L173.05,413.31L164.32,406.58Z"/>
<path d="M193.51,476.09L202.31,486.42L205.92,476.84L197.13,467.18Z"/>
<path d="M188.35,457.87L197.13,467.18L200.76,458.67L191.99,449.93Z"/>
<path d="M151.9,405.48L160.64,412.28L164.32,406.58L155.59,400.11Z"/>
<path d="M174.46,433.41L183.22,441.51L186.88,434.39L178.13,426.73Z"/>
<path d="M143.17,398.97L151.9,405.48L155.59,400.11L146.87,393.9Z"/>
<path d="M73.52,357.24L82.21,361.45L85.93,357.81L77.24,353.71Z"/>
<path d="M189.89,485.41L198.71,496.48L202.31,486.42L193.51,476.09Z"/>
<path d="M134.45,392.75L143.17,398.97L146.87,393.9L138.15,387.95Z"/>
<path d="M82.21,361.45L90.9,365.95L94.62,362.18L85.93,357.81Z"/>
<path d="M179.57,448.93L188.35,457.87L191.99,449.93L183.22,441.51Z"/>
<path d="M165.71,425.63L174.46,433.41L178.13,426.73L169.38,419.36Z"/>
<path d="M125.73,386.82L134.45,392.75L138.15,387.95L129.43,382.27Z"/>
<path d="M90.9,365.95L99.6,370.74L103.31,366.81L94.62,362.18Z"/>
<path d="M184.71,466.16L193.51,476.09L197.13,467.18L188.35,457.87Z"/>
<path d="M117.01,381.17L125.73,386.82L129.43,382.27L120.72,376.86Z"/>
<path d="M99.6,370.74L108.3,375.81L112.01,371.7L103.31,366.81Z"/>
<path d="M108.3,375.81L117.01,381.17L120.72,376.86L112.01,371.7Z"/>
<path d="M156.96,418.17L165.71,425.63L169.38,419.36L160.64,412.28Z"/>
<path d="M170.8,440.35L179.57,448.93L183.22,441.51L174.46,433.41Z"/>
<path d="M148.22,411.03L156.96,418.17L160.64,412.28L151.9,405.48Z"/>
<path d="M181.09,474.8L189.89,485.41L193.51,476.09L184.71,466.16Z"/>
<path d="M175.93,456.64L184.71,466.16L188.35,457.87L179.57,448.93Z"/>
<path d="M139.48,404.21L148.22,411.03L151.9,405.48L143.17,398.97Z"/>
<path d="M162.04,432.12L170.8,440.35L174.46,433.41L165.71,425.63Z"/>
<path d="M130.75,397.71L139.48,404.21L143.17,398.97L134.45,392.75Z"/>
<path d="M69.8,361.14L78.49,365.41L82.21,361.45L73.52,357.24Z"/>
<path d="M122.03,391.53L130.75,397.71L134.45,392.75L125.73,386.82Z"/>
<path d="M78.49,365.41L87.19,369.99L90.9,365.95L82.21,361.45Z"/>
<path d="M167.15,447.53L175.93,456.64L179.57,448.93L170.8,440.35Z"/>
<path d="M153.29,424.26L162.04,432.12L165.71,425.63L156.96,418.17Z"/>
<path d="M113.31,385.66L122.03,391.53L125.73,386.82L117.01,381.17Z"/>
<path d="M87.19,369.99L95.89,374.9L99.6,370.74L90.9,365.95Z"/>
<path d="M172.29,464.65L181.09,474.8L184.71,466.16L175.93,456.64Z"/>
<path d="M104.6,380.12L113.31,385.66L117.01,381.17L108.3,375.81Z"/>
<path d="M95.89,374.9L104.6,380.12L108.3,375.81L99.6,370.74Z"/>
<path d="M144.54,416.75L153.29,424.26L156.96,418.17L148.22,411.03Z"/>
<path d="M158.38,438.83L167.15,447.53L170.8,440.35L162.04,432.12Z"/>
<path d="M135.79,409.61L144.54,416.75L148.22,411.03L139.48,404.21Z"/>
<path d="M163.5,454.98L172.29,464.65L175.93,456.64L167.15,447.53Z"/>
<path d="M127.06,402.83L135.79,409.61L139.48,404.21L130.75,397.71Z"/>
<path d="M149.61,430.54L158.38,438.83L162.04,432.12L153.29,424.26Z"/>
<path d="M118.33,396.4L127.06,402.83L130.75,397.71L122.03,391.53Z"/>
<path d="M66.1,365.41L74.79,369.67L78.49,365.41L69.8,361.14Z"/>
<path d="M109.61,390.34L118.33,396.4L122.03,391.53L113.31,385.66Z"/>
<path d="M74.79,369.67L83.48,374.3L87.19,369.99L78.49,365.41Z"/>
<path d="M100.89,384.63L109.61,390.34L113.31,385.66L104.6,380.12Z"/>
<path d="M83.48,374.3L92.18,379.28L95.89,374.9L87.19,369.99Z"/>
<path d="M154.72,445.76L163.5,454.98L167.15,447.53L158.38,438.83Z"/>
<path d="M92.18,379.28L100.89,384.63L104.6,380.12L95.89,374.9Z"/>
<path d="M140.86,422.65L149.61,430.54L153.29,424.26L144.54,416.75Z"/>
<path d="M132.11,415.17L140.86,422.65L144.54,416.75L135.79,409.61Z"/>
<path d="M145.95,437.01L154.72,445.76L158.38,438.83L149.61,430.54Z"/>
<path d="M123.37,408.1L132.11,415.17L135.79,409.61L127.06,402.83Z"/>
<path d="M114.64,401.44L123.37,408.1L127.06,402.83L118.33,396.4Z"/>
<path d="M137.18,428.72L145.95,437.01L149.61,430.54L140.86,422.65Z"/>
<path d="M62.39,370.04L71.08,374.25L74.79,369.67L66.1,365.41Z"/>
<path d="M105.91,395.19L114.64,401.44L118.33,396.4L109.61,390.34Z"/>
<path d="M71.08,374.25L79.78,378.87L83.48,374.3L74.79,369.67Z"/>
<path d="M97.19,389.34L105.91,395.19L109.61,390.34L100.89,384.63Z"/>
<path d="M79.78,378.87L88.48,383.9L92.18,379.28L83.48,374.3Z"/>
<path d="M88.48,383.9L97.19,389.34L100.89,384.63L92.18,379.28Z"/>
<path d="M128.43,420.9L137.18,428.72L140.86,422.65L132.11,415.17Z"/>
<path d="M119.68,413.54L128.43,420.9L132.11,415.17L123.37,408.1Z"/>
<path d="M110.95,406.65L119.68,413.54L123.37,408.1L114.64,401.44Z"/>
<path d="M102.22,400.22L110.95,406.65L114.64,401.44L105.91,395.19Z"/>
<path d="M58.7,375.03L67.39,379.14L71.08,374.25L62.39,370.04Z"/>
<path d="M93.5,394.25L102.22,400.22L105.91,395.19L97.19,389.34Z"/>
<path d="M67.39,379.14L76.08,383.71L79.78,378.87L71.08,374.25Z"/>
<path d="M84.78,388.75L93.5,394.25L97.19,389.34L88.48,383.9Z"/>
<path d="M76.08,383.71L84.78,388.75L88.48,383.9L79.78,378.87Z"/>
</g>
<line x1="359.77" y1="487.12" x2="425.67" y2="412.32" class="g"/>
<line x1="382.74" y1="491.33" x2="448.64" y2="416.53" class="g"/>
<line x1="405.71" y1="495.55" x2="471.61" y2="420.75" class="g"/>
<line x1="428.67" y1="499.76" x2="494.57" y2="424.96" class="g"/>
<line x1="451.64" y1="503.98" x2="517.54" y2="429.18" class="g"/>
<line x1="474.6" y1="508.19" x2="540.5" y2="433.39" class="g"/>
<line x1="497.57" y1="512.41" x2="563.47" y2="437.61" class="g"/>
<line x1="354.27" y1="482.46" x2="513.37" y2="511.66" class="g"/>
<line x1="369.06" y1="465.67" x2="528.16" y2="494.87" class="g"/>
<line x1="383.86" y1="448.87" x2="542.96" y2="478.07" class="g"/>
<line x1="398.65" y1="432.08" x2="557.75" y2="461.28" class="g"/>
<line x1="413.45" y1="415.29" x2="572.55" y2="444.49" class="g"/>
<line x1="426.46" y1="412.46" x2="424.36" y2="296.56" class="g"/>
<line x1="449.89" y1="416.76" x2="447.79" y2="300.86" class="g"/>
<line x1="473.33" y1="421.06" x2="471.23" y2="305.16" class="g"/>
<line x1="496.76" y1="425.36" x2="494.66" y2="309.46" class="g"/>
<line x1="520.19" y1="429.67" x2="518.09" y2="313.77" class="g"/>
<line x1="543.62" y1="433.97" x2="541.52" y2="318.07" class="g"/>
<line x1="567.06" y1="438.27" x2="564.96" y2="322.37" class="g"/>
<line x1="417.38" y1="409.68" x2="576.48" y2="438.88" class="g"/>
<line x1="417.08" y1="393.24" x2="576.18" y2="422.44" class="g"/>
<line x1="416.78" y1="376.79" x2="575.88" y2="405.99" class="g"/>
<line x1="416.49" y1="360.35" x2="575.59" y2="389.55" class="g"/>
<line x1="416.19" y1="343.9" x2="575.29" y2="373.1" class="g"/>
<line x1="415.89" y1="327.46" x2="574.99" y2="356.66" class="g"/>
<line x1="415.59" y1="311.02" x2="574.69" y2="340.22" class="g"/>
<line x1="354.27" y1="482.46" x2="352.17" y2="366.56" class="g"/>
<line x1="369.06" y1="465.67" x2="366.96" y2="349.77" class="g"/>
<line x1="383.86" y1="448.87" x2="381.76" y2="332.97" class="g"/>
<line x1="398.65" y1="432.08" x2="396.55" y2="316.18" class="g"/>
<line x1="413.45" y1="415.29" x2="411.35" y2="299.39" class="g"/>
<line x1="351.48" y1="484.48" x2="417.38" y2="409.68" class="g"/>
<line x1="351.18" y1="468.04" x2="417.08" y2="393.24" class="g"/>
<line x1="350.88" y1="451.59" x2="416.78" y2="376.79" class="g"/>
<line x1="350.59" y1="435.15" x2="416.49" y2="360.35" class="g"/>
<line x1="350.29" y1="418.7" x2="416.19" y2="343.9" class="g"/>
<line x1="349.99" y1="402.26" x2="415.89" y2="327.46" class="g"/>
<line x1="349.69" y1="385.82" x2="415.59" y2="311.02" class="g"/>
<line x1="349.4" y1="369.7" x2="351.5" y2="485.6" class="e"/>
<line x1="351.5" y1="485.6" x2="510.6" y2="514.8" class="e"/>
<line x1="510.6" y1="514.8" x2="576.5" y2="440" class="e"/>
<line x1="351.5" y1="485.6" x2="417.4" y2="410.8" class="e"/>
<line x1="417.4" y1="410.8" x2="415.3" y2="294.9" class="e"/>
<line x1="415.3" y1="294.9" x2="349.4" y2="369.7" class="e"/>
<line x1="415.3" y1="294.9" x2="574.4" y2="324.1" class="e"/>
<line x1="574.4" y1="324.1" x2="576.5" y2="440" class="e"/>
<line x1="417.4" y1="410.8" x2="576.5" y2="440" class="e"/>
<line x1="359.77" y1="487.12" x2="360.57" y2="489.72" class="e"/>
<line x1="405.71" y1="495.55" x2="406.51" y2="498.15" class="e"/>
<line x1="451.64" y1="503.98" x2="452.44" y2="506.58" class="e"/>
<line x1="497.57" y1="512.41" x2="498.37" y2="515.01" class="e"/>
<line x1="513.37" y1="511.66" x2="515.97" y2="511.66" class="e"/>
<line x1="528.16" y1="494.87" x2="530.76" y2="494.87" class="e"/>
<line x1="542.96" y1="478.07" x2="545.56" y2="478.07" class="e"/>
<line x1="557.75" y1="461.28" x2="560.35" y2="461.28" class="e"/>
<line x1="572.55" y1="444.49" x2="575.15" y2="444.49" class="e"/>
<line x1="351.48" y1="484.48" x2="348.48" y2="484.48" class="e"/>
<line x1="350.88" y1="451.59" x2="347.88" y2="451.59" class="e"/>
<line x1="350.29" y1="418.7" x2="347.29" y2="418.7" class="e"/>
<line x1="349.69" y1="385.82" x2="346.69" y2="385.82" class="e"/>
<g class="s">
<path d="M420.9,404.59L429.38,397.86L433.16,399.07L424.69,406.23Z"/>
<path d="M429.38,397.86L437.88,391.72L441.65,392.47L433.16,399.07Z"/>
<path d="M417.11,402.89L425.6,396.62L429.38,397.86L420.9,404.59Z"/>
<path d="M437.88,391.72L446.39,386.18L450.15,386.44L441.65,392.47Z"/>
<path d="M425.6,396.62L434.11,390.96L437.88,391.72L429.38,397.86Z"/>
<path d="M413.32,401.15L421.82,395.35L425.6,396.62L417.11,402.89Z"/>
<path d="M446.39,386.18L454.9,381.22L458.66,380.99L450.15,386.44Z"/>
<path d="M434.11,390.96L442.62,385.9L446.39,386.18L437.88,391.72Z"/>
<path d="M421.82,395.35L430.34,390.17L434.11,390.96L425.6,396.62Z"/>
<path d="M409.53,399.36L418.04,394.05L421.82,395.35L413.32,401.15Z"/>
<path d="M454.9,381.22L463.43,376.86L467.18,376.1L458.66,380.99Z"/>
<path d="M442.62,385.9L451.15,381.45L454.9,381.22L446.39,386.18Z"/>
<path d="M430.34,390.17L438.86,385.61L442.62,385.9L434.11,390.96Z"/>
<path d="M463.43,376.86L471.97,373.08L475.71,371.78L467.18,376.1Z"/>
<path d="M418.04,394.05L426.56,389.37L430.34,390.17L421.82,395.35Z"/>
<path d="M451.15,381.45L459.69,377.62L463.43,376.86L454.9,381.22Z"/>
<path d="M405.74,397.52L414.26,392.71L418.04,394.05L409.53,399.36Z"/>
<path d="M438.86,385.61L447.4,381.68L451.15,381.45L442.62,385.9Z"/>
<path d="M471.97,373.08L480.52,369.9L484.25,368.03L475.71,371.78Z"/>
<path d="M426.56,389.37L435.1,385.32L438.86,385.61L430.34,390.17Z"/>
<path d="M459.69,377.62L468.24,374.38L471.97,373.08L463.43,376.86Z"/>
<path d="M414.26,392.71L422.79,388.54L426.56,389.37L418.04,394.05Z"/>
<path d="M447.4,381.68L455.94,378.37L459.69,377.62L451.15,381.45Z"/>
<path d="M480.52,369.9L489.08,367.31L492.8,364.85L484.25,368.03Z"/>
<path d="M401.94,395.63L410.47,391.35L414.26,392.71L405.74,397.52Z"/>
<path d="M435.1,385.32L443.64,381.9L447.4,381.68L438.86,385.61Z"/>
<path d="M468.24,374.38L476.8,371.76L480.52,369.9L471.97,373.08Z"/>
<path d="M422.79,388.54L431.33,385.01L435.1,385.32L426.56,389.37Z"/>
<path d="M455.94,378.37L464.5,375.68L468.24,374.38L459.69,377.62Z"/>
<path d="M489.08,367.31L497.65,365.31L501.36,362.23L492.8,364.85Z"/>
<path d="M443.64,381.9L452.2,379.11L455.94,378.37L447.4,381.68Z"/>
<path d="M410.47,391.35L419.02,387.7L422.79,388.54L414.26,392.71Z"/>
<path d="M476.8,371.76L485.37,369.75L489.08,367.31L480.52,369.9Z"/>
<path d="M464.5,375.68L473.07,373.61L476.8,371.76L468.24,374.38Z"/>
<path d="M431.33,385.01L439.89,382.12L443.64,381.9L435.1,385.32Z"/>
<path d="M497.65,365.31L506.24,363.9L509.93,360.19L501.36,362.23Z"/>
<path d="M398.15,393.7L406.69,389.95L410.47,391.35L401.94,395.63Z"/>
<path d="M485.37,369.75L493.95,368.34L497.65,365.31L489.08,367.31Z"/>
<path d="M452.2,379.11L460.77,376.96L464.5,375.68L455.94,378.37Z"/>
<path d="M419.02,387.7L427.57,384.69L431.33,385.01L422.79,388.54Z"/>
<path d="M473.07,373.61L481.65,372.16L485.37,369.75L476.8,371.76Z"/>
<path d="M506.24,363.9L514.83,363.08L518.51,358.72L509.93,360.19Z"/>
<path d="M439.89,382.12L448.45,379.86L452.2,379.11L443.64,381.9Z"/>
<path d="M493.95,368.34L502.54,367.54L506.24,363.9L497.65,365.31Z"/>
<path d="M406.69,389.95L415.24,386.84L419.02,387.7L410.47,391.35Z"/>
<path d="M460.77,376.96L469.35,375.44L473.07,373.61L464.5,375.68Z"/>
<path d="M427.57,384.69L436.13,382.33L439.89,382.12L431.33,385.01Z"/>
<path d="M514.83,363.08L523.43,362.85L527.1,357.82L518.51,358.72Z"/>
<path d="M481.65,372.16L490.25,371.33L493.95,368.34L485.37,369.75Z"/>
<path d="M448.45,379.86L457.03,378.23L460.77,376.96L452.2,379.11Z"/>
<path d="M394.36,391.72L402.91,388.53L406.69,389.95L398.15,393.7Z"/>
<path d="M502.54,367.54L511.15,367.35L514.83,363.08L506.24,363.9Z"/>
<path d="M469.35,375.44L477.94,374.54L481.65,372.16L473.07,373.61Z"/>
<path d="M415.24,386.84L423.8,384.37L427.57,384.69L419.02,387.7Z"/>
<path d="M523.43,362.85L532.04,363.21L535.7,357.48L527.1,357.82Z"/>
<path d="M490.25,371.33L498.85,371.13L502.54,367.54L493.95,368.34Z"/>
<path d="M436.13,382.33L444.71,380.59L448.45,379.86L439.89,382.12Z"/>
<path d="M511.15,367.35L519.76,367.77L523.43,362.85L514.83,363.08Z"/>
<path d="M457.03,378.23L465.62,377.25L469.35,375.44L460.77,376.96Z"/>
<path d="M532.04,363.21L540.67,364.16L544.31,357.72L535.7,357.48Z"/>
<path d="M477.94,374.54L486.54,374.28L490.25,371.33L481.65,372.16Z"/>
<path d="M402.91,388.53L411.47,385.97L415.24,386.84L406.69,389.95Z"/>
<path d="M498.85,371.13L507.46,371.55L511.15,367.35L502.54,367.54Z"/>
<path d="M423.8,384.37L432.38,382.53L436.13,382.33L427.57,384.69Z"/>
<path d="M519.76,367.77L528.39,368.8L532.04,363.21L523.43,362.85Z"/>
<path d="M444.71,380.59L453.3,379.5L457.03,378.23L448.45,379.86Z"/>
<path d="M540.67,364.16L549.31,365.71L552.93,358.52L544.31,357.72Z"/>
<path d="M465.62,377.25L474.22,376.9L477.94,374.54L469.35,375.44Z"/>
<path d="M486.54,374.28L495.16,374.65L498.85,371.13L490.25,371.33Z"/>
<path d="M507.46,371.55L516.09,372.58L519.76,367.77L511.15,367.35Z"/>
<path d="M528.39,368.8L537.02,370.43L540.67,364.16L532.04,363.21Z"/>
<path d="M390.56,389.7L399.12,387.07L402.91,388.53L394.36,391.72Z"/>
<path d="M549.31,365.71L557.95,367.84L561.57,359.9L552.93,358.52Z"/>
<path d="M411.47,385.97L420.04,384.03L423.8,384.37L415.24,386.84Z"/>
<path d="M432.38,382.53L440.96,381.33L444.71,380.59L436.13,382.33Z"/>
<path d="M453.3,379.5L461.9,379.05L465.62,377.25L457.03,378.23Z"/>
<path d="M516.09,372.58L524.73,374.24L528.39,368.8L519.76,367.77Z"/>
<path d="M537.02,370.43L545.67,372.68L549.31,365.71L540.67,364.16Z"/>
<path d="M495.16,374.65L503.78,375.65L507.46,371.55L498.85,371.13Z"/>
<path d="M474.22,376.9L482.84,377.19L486.54,374.28L477.94,374.54Z"/>
<path d="M545.67,372.68L554.33,375.53L557.95,367.84L549.31,365.71Z"/>
<path d="M524.73,374.24L533.38,376.53L537.02,370.43L528.39,368.8Z"/>
<path d="M503.78,375.65L512.42,377.29L516.09,372.58L507.46,371.55Z"/>
<path d="M399.12,387.07L407.69,385.07L411.47,385.97L402.91,388.53Z"/>
<path d="M482.84,377.19L491.46,378.11L495.16,374.65L486.54,374.28Z"/>
<path d="M420.04,384.03L428.62,382.73L432.38,382.53L423.8,384.37Z"/>
<path d="M461.9,379.05L470.51,379.23L474.22,376.9L465.62,377.25Z"/>
<path d="M440.96,381.33L449.56,380.76L453.3,379.5L444.71,380.59Z"/>
<path d="M533.38,376.53L542.04,379.43L545.67,372.68L537.02,370.43Z"/>
<path d="M512.42,377.29L521.07,379.55L524.73,374.24L516.09,372.58Z"/>
<path d="M542.04,379.43L550.71,382.96L554.33,375.53L545.67,372.68Z"/>
<path d="M491.46,378.11L500.1,379.68L503.78,375.65L495.16,374.65Z"/>
<path d="M470.51,379.23L479.13,380.06L482.84,377.19L474.22,376.9Z"/>
<path d="M521.07,379.55L529.73,382.44L533.38,376.53L524.73,374.24Z"/>
<path d="M449.56,380.76L458.17,380.83L461.9,379.05L453.3,379.5Z"/>
<path d="M386.77,387.62L395.34,385.58L399.12,387.07L390.56,389.7Z"/>
<path d="M407.69,385.07L416.28,383.68L420.04,384.03L411.47,385.97Z"/>
<path d="M428.62,382.73L437.22,382.05L440.96,381.33L432.38,382.53Z"/>
<path d="M500.1,379.68L508.74,381.88L512.42,377.29L503.78,375.65Z"/>
<path d="M529.73,382.44L538.4,385.97L542.04,379.43L533.38,376.53Z"/>
<path d="M538.4,385.97L547.08,390.13L550.71,382.96L542.04,379.43Z"/>
<path d="M479.13,380.06L487.76,381.52L491.46,378.11L482.84,377.19Z"/>
<path d="M508.74,381.88L517.4,384.71L521.07,379.55L512.42,377.29Z"/>
<path d="M458.17,380.83L466.79,381.54L470.51,379.23L461.9,379.05Z"/>
<path d="M437.22,382.05L445.83,382.01L449.56,380.76L440.96,381.33Z"/>
<path d="M517.4,384.71L526.07,388.18L529.73,382.44L521.07,379.55Z"/>
<path d="M416.28,383.68L424.87,382.92L428.62,382.73L420.04,384.03Z"/>
<path d="M487.76,381.52L496.41,383.62L500.1,379.68L491.46,378.11Z"/>
<path d="M395.34,385.58L403.92,384.15L407.69,385.07L399.12,387.07Z"/>
<path d="M526.07,388.18L534.75,392.29L538.4,385.97L529.73,382.44Z"/>
<path d="M534.75,392.29L543.45,397.04L547.08,390.13L538.4,385.97Z"/>
<path d="M466.79,381.54L475.42,382.88L479.13,380.06L470.51,379.23Z"/>
<path d="M496.41,383.62L505.07,386.35L508.74,381.88L500.1,379.68Z"/>
<path d="M445.83,382.01L454.44,382.6L458.17,380.83L449.56,380.76Z"/>
<path d="M505.07,386.35L513.73,389.73L517.4,384.71L508.74,381.88Z"/>
<path d="M424.87,382.92L433.47,382.78L437.22,382.05L428.62,382.73Z"/>
<path d="M475.42,382.88L484.07,384.86L487.76,381.52L479.13,380.06Z"/>
<path d="M403.92,384.15L412.51,383.33L416.28,383.68L407.69,385.07Z"/>
<path d="M513.73,389.73L522.41,393.75L526.07,388.18L517.4,384.71Z"/>
<path d="M382.97,385.5L391.55,384.07L395.34,385.58L386.77,387.62Z"/>
<path d="M522.41,393.75L531.11,398.4L534.75,392.29L526.07,388.18Z"/>
<path d="M531.11,398.4L539.81,403.69L543.45,397.04L534.75,392.29Z"/>
<path d="M454.44,382.6L463.07,383.81L466.79,381.54L458.17,380.83Z"/>
<path d="M484.07,384.86L492.72,387.47L496.41,383.62L487.76,381.52Z"/>
<path d="M433.47,382.78L442.09,383.25L445.83,382.01L437.22,382.05Z"/>
<path d="M492.72,387.47L501.39,390.72L505.07,386.35L496.41,383.62Z"/>
<path d="M463.07,383.81L471.71,385.66L475.42,382.88L466.79,381.54Z"/>
<path d="M412.51,383.33L421.11,383.11L424.87,382.92L416.28,383.68Z"/>
<path d="M501.39,390.72L510.06,394.61L513.73,389.73L505.07,386.35Z"/>
<path d="M391.55,384.07L400.14,383.22L403.92,384.15L395.34,385.58Z"/>
<path d="M510.06,394.61L518.75,399.13L522.41,393.75L513.73,389.73Z"/>
<path d="M527.45,404.29L536.17,410.09L539.81,403.69L531.11,398.4Z"/>
<path d="M518.75,399.13L527.45,404.29L531.11,398.4L522.41,393.75Z"/>
<path d="M442.09,383.25L450.72,384.35L454.44,382.6L445.83,382.01Z"/>
<path d="M471.71,385.66L480.37,388.14L484.07,384.86L475.42,382.88Z"/>
<path d="M421.11,383.11L429.73,383.49L433.47,382.78L424.87,382.92Z"/>
<path d="M480.37,388.14L489.03,391.24L492.72,387.47L484.07,384.86Z"/>
<path d="M450.72,384.35L459.36,386.06L463.07,383.81L454.44,382.6Z"/>
<path d="M400.14,383.22L408.75,382.96L412.51,383.33L403.92,384.15Z"/>
<path d="M489.03,391.24L497.7,394.98L501.39,390.72L492.72,387.47Z"/>
<path d="M497.7,394.98L506.39,399.35L510.06,394.61L501.39,390.72Z"/>
<path d="M523.8,409.97L532.52,416.23L536.17,410.09L527.45,404.29Z"/>
<path d="M379.17,383.33L387.76,382.52L391.55,384.07L382.97,385.5Z"/>
<path d="M506.39,399.35L515.09,404.34L518.75,399.13L510.06,394.61Z"/>
<path d="M515.09,404.34L523.8,409.97L527.45,404.29L518.75,399.13Z"/>
<path d="M429.73,383.49L438.35,384.49L442.09,383.25L433.47,382.78Z"/>
<path d="M459.36,386.06L468.01,388.4L471.71,385.66L463.07,383.81Z"/>
<path d="M468.01,388.4L476.67,391.36L480.37,388.14L471.71,385.66Z"/>
<path d="M408.75,382.96L417.36,383.29L421.11,383.11L412.51,383.33Z"/>
<path d="M438.35,384.49L446.99,386.08L450.72,384.35L442.09,383.25Z"/>
<path d="M476.67,391.36L485.34,394.93L489.03,391.24L480.37,388.14Z"/>
<path d="M387.76,382.52L396.37,382.27L400.14,383.22L391.55,384.07Z"/>
<path d="M520.14,415.43L528.87,422.11L532.52,416.23L523.8,409.97Z"/>
<path d="M485.34,394.93L494.02,399.13L497.7,394.98L489.03,391.24Z"/>
<path d="M511.42,409.38L520.14,415.43L523.8,409.97L515.09,404.34Z"/>
<path d="M494.02,399.13L502.72,403.94L506.39,399.35L497.7,394.98Z"/>
<path d="M502.72,403.94L511.42,409.38L515.09,404.34L506.39,399.35Z"/>
<path d="M446.99,386.08L455.64,388.29L459.36,386.06L450.72,384.35Z"/>
<path d="M417.36,383.29L425.98,384.21L429.73,383.49L421.11,383.11Z"/>
<path d="M455.64,388.29L464.3,391.1L468.01,388.4L459.36,386.06Z"/>
<path d="M396.37,382.27L404.98,382.58L408.75,382.96L400.14,383.22Z"/>
<path d="M425.98,384.21L434.62,385.71L438.35,384.49L429.73,383.49Z"/>
<path d="M464.3,391.1L472.97,394.51L476.67,391.36L468.01,388.4Z"/>
<path d="M516.48,420.68L525.21,427.73L528.87,422.11L520.14,415.43Z"/>
<path d="M375.37,381.12L383.98,380.94L387.76,382.52L379.17,383.33Z"/>
<path d="M472.97,394.51L481.65,398.54L485.34,394.93L476.67,391.36Z"/>
<path d="M507.75,414.23L516.48,420.68L520.14,415.43L511.42,409.38Z"/>
<path d="M481.65,398.54L490.34,403.16L494.02,399.13L485.34,394.93Z"/>
<path d="M434.62,385.71L443.26,387.81L446.99,386.08L438.35,384.49Z"/>
<path d="M499.04,408.4L507.75,414.23L511.42,409.38L502.72,403.94Z"/>
<path d="M404.98,382.58L413.6,383.47L417.36,383.29L408.75,382.96Z"/>
<path d="M490.34,403.16L499.04,408.4L502.72,403.94L494.02,399.13Z"/>
<path d="M443.26,387.81L451.92,390.49L455.64,388.29L446.99,386.08Z"/>
<path d="M383.98,380.94L392.59,381.3L396.37,382.27L387.76,382.52Z"/>
<path d="M413.6,383.47L422.24,384.92L425.98,384.21L417.36,383.29Z"/>
<path d="M451.92,390.49L460.59,393.75L464.3,391.1L455.64,388.29Z"/>
<path d="M512.81,425.71L521.55,433.09L525.21,427.73L516.48,420.68Z"/>
<path d="M460.59,393.75L469.26,397.61L472.97,394.51L464.3,391.1Z"/>
<path d="M504.08,418.92L512.81,425.71L516.48,420.68L507.75,414.23Z"/>
<path d="M422.24,384.92L430.88,386.93L434.62,385.71L425.98,384.21Z"/>
<path d="M469.26,397.61L477.95,402.06L481.65,398.54L472.97,394.51Z"/>
<path d="M495.36,412.71L504.08,418.92L507.75,414.23L499.04,408.4Z"/>
<path d="M477.95,402.06L486.65,407.09L490.34,403.16L481.65,398.54Z"/>
<path d="M486.65,407.09L495.36,412.71L499.04,408.4L490.34,403.16Z"/>
<path d="M392.59,381.3L401.21,382.2L404.98,382.58L396.37,382.27Z"/>
<path d="M430.88,386.93L439.54,389.51L443.26,387.81L434.62,385.71Z"/>
<path d="M509.14,430.53L517.88,438.2L521.55,433.09L512.81,425.71Z"/>
<path d="M401.21,382.2L409.85,383.64L413.6,383.47L404.98,382.58Z"/>
<path d="M371.57,378.85L380.19,379.32L383.98,380.94L375.37,381.12Z"/>
<path d="M439.54,389.51L448.2,392.66L451.92,390.49L443.26,387.81Z"/>
<path d="M500.4,423.42L509.14,430.53L512.81,425.71L504.08,418.92Z"/>
<path d="M448.2,392.66L456.87,396.37L460.59,393.75L451.92,390.49Z"/>
<path d="M491.68,416.88L500.4,423.42L504.08,418.92L495.36,412.71Z"/>
<path d="M409.85,383.64L418.49,385.62L422.24,384.92L413.6,383.47Z"/>
<path d="M456.87,396.37L465.56,400.65L469.26,397.61L460.59,393.75Z"/>
<path d="M482.96,410.9L491.68,416.88L495.36,412.71L486.65,407.09Z"/>
<path d="M465.56,400.65L474.25,405.49L477.95,402.06L469.26,397.61Z"/>
<path d="M474.25,405.49L482.96,410.9L486.65,407.09L477.95,402.06Z"/>
<path d="M380.19,379.32L388.81,380.31L392.59,381.3L383.98,380.94Z"/>
<path d="M418.49,385.62L427.14,388.14L430.88,386.93L422.24,384.92Z"/>
<path d="M505.46,435.13L514.21,443.05L517.88,438.2L509.14,430.53Z"/>
<path d="M388.81,380.31L397.45,381.8L401.21,382.2L392.59,381.3Z"/>
<path d="M427.14,388.14L435.81,391.2L439.54,389.51L430.88,386.93Z"/>
<path d="M496.72,427.75L505.46,435.13L509.14,430.53L500.4,423.42Z"/>
<path d="M435.81,391.2L444.48,394.8L448.2,392.66L439.54,389.51Z"/>
<path d="M487.99,420.91L496.72,427.75L500.4,423.42L491.68,416.88Z"/>
<path d="M397.45,381.8L406.09,383.8L409.85,383.64L401.21,382.2Z"/>
<path d="M444.48,394.8L453.16,398.94L456.87,396.37L448.2,392.66Z"/>
<path d="M479.27,414.6L487.99,420.91L491.68,416.88L482.96,410.9Z"/>
<path d="M453.16,398.94L461.86,403.62L465.56,400.65L456.87,396.37Z"/>
<path d="M470.56,408.84L479.27,414.6L482.96,410.9L474.25,405.49Z"/>
<path d="M461.86,403.62L470.56,408.84L474.25,405.49L465.56,400.65Z"/>
<path d="M367.77,376.54L376.4,377.68L380.19,379.32L371.57,378.85Z"/>
<path d="M501.78,439.51L510.54,447.64L514.21,443.05L505.46,435.13Z"/>
<path d="M406.09,383.8L414.75,386.32L418.49,385.62L409.85,383.64Z"/>
<path d="M493.04,431.9L501.78,439.51L505.46,435.13L496.72,427.75Z"/>
<path d="M414.75,386.32L423.41,389.34L427.14,388.14L418.49,385.62Z"/>
<path d="M376.4,377.68L385.04,379.3L388.81,380.31L380.19,379.32Z"/>
<path d="M484.3,424.79L493.04,431.9L496.72,427.75L487.99,420.91Z"/>
<path d="M423.41,389.34L432.08,392.87L435.81,391.2L427.14,388.14Z"/>
<path d="M475.58,418.2L484.3,424.79L487.99,420.91L479.27,414.6Z"/>
<path d="M432.08,392.87L440.76,396.92L444.48,394.8L435.81,391.2Z"/>
<path d="M385.04,379.3L393.68,381.39L397.45,381.8L388.81,380.31Z"/>
<path d="M466.86,412.11L475.58,418.2L479.27,414.6L470.56,408.84Z"/>
<path d="M440.76,396.92L449.45,401.47L453.16,398.94L444.48,394.8Z"/>
<path d="M458.15,406.54L466.86,412.11L470.56,408.84L461.86,403.62Z"/>
<path d="M449.45,401.47L458.15,406.54L461.86,403.62L453.16,398.94Z"/>
<path d="M498.1,443.68L506.86,451.97L510.54,447.64L501.78,439.51Z"/>
<path d="M393.68,381.39L402.34,383.96L406.09,383.8L397.45,381.8Z"/>
<path d="M489.35,435.87L498.1,443.68L501.78,439.51L493.04,431.9Z"/>
<path d="M402.34,383.96L411,387.01L414.75,386.32L406.09,383.8Z"/>
<path d="M480.61,428.54L489.35,435.87L493.04,431.9L484.3,424.79Z"/>
<path d="M363.97,374.18L372.61,376.01L376.4,377.68L367.77,376.54Z"/>
<path d="M411,387.01L419.67,390.53L423.41,389.34L414.75,386.32Z"/>
<path d="M471.88,421.68L480.61,428.54L484.3,424.79L475.58,418.2Z"/>
<path d="M419.67,390.53L428.35,394.53L432.08,392.87L423.41,389.34Z"/>
<path d="M463.16,415.3L471.88,421.68L475.58,418.2L466.86,412.11Z"/>
<path d="M494.41,447.64L503.17,456.05L506.86,451.97L498.1,443.68Z"/>
<path d="M428.35,394.53L437.04,399.01L440.76,396.92L432.08,392.87Z"/>
<path d="M372.61,376.01L381.26,378.27L385.04,379.3L376.4,377.68Z"/>
<path d="M454.44,409.39L463.16,415.3L466.86,412.11L458.15,406.54Z"/>
<path d="M437.04,399.01L445.74,403.96L449.45,401.47L440.76,396.92Z"/>
<path d="M445.74,403.96L454.44,409.39L458.15,406.54L449.45,401.47Z"/>
<path d="M485.66,439.67L494.41,447.64L498.1,443.68L489.35,435.87Z"/>
<path d="M381.26,378.27L389.92,380.98L393.68,381.39L385.04,379.3Z"/>
<path d="M476.92,432.14L485.66,439.67L489.35,435.87L480.61,428.54Z"/>
<path d="M389.92,380.98L398.58,384.12L402.34,383.96L393.68,381.39Z"/>
<path d="M468.18,425.05L476.92,432.14L480.61,428.54L471.88,421.68Z"/>
<path d="M398.58,384.12L407.25,387.7L411,387.01L402.34,383.96Z"/>
<path d="M459.46,418.4L468.18,425.05L471.88,421.68L463.16,415.3Z"/>
<path d="M407.25,387.7L415.93,391.72L419.67,390.53L411,387.01Z"/>
<path d="M450.74,412.18L459.46,418.4L463.16,415.3L454.44,409.39Z"/>
<path d="M415.93,391.72L424.62,396.18L428.35,394.53L419.67,390.53Z"/>
<path d="M442.02,406.41L450.74,412.18L454.44,409.39L445.74,403.96Z"/>
<path d="M424.62,396.18L433.32,401.07L437.04,399.01L428.35,394.53Z"/>
<path d="M433.32,401.07L442.02,406.41L445.74,403.96L437.04,399.01Z"/>
</g>
<text x="113.2" y="9.3" text-anchor="start" style="font-family:&quot;Liberation Serif&quot;,serif;font-weight:bold;font-size:11px" textLength="69.5" lengthAdjust="spacingAndGlyphs">a) DGG VS I,V</text>
<text x="2.5" y="33.7" text-anchor="start" style="font-family:&quot;Liberation Serif&quot;,serif;font-weight:bold;font-size:11px">Hold Values</text>
<text x="2.5" y="48.4" text-anchor="start" style="font-family:&quot;Liberation Serif&quot;,serif;font-weight:bold;font-size:11px" textLength="61.8" lengthAdjust="spacingAndGlyphs">GFR(l/min):9</text>
<text x="2.5" y="63" text-anchor="start" style="font-family:&quot;Liberation Serif&quot;,serif;font-weight:bold;font-size:11px" textLength="49" lengthAdjust="spacingAndGlyphs">N(mm):2.5</text>
<text x="26.8" y="100.3" text-anchor="end" style="font-family:&quot;Liberation Sans&quot;,sans-serif;font-weight:bold;font-size:12px">0.8</text>
<text x="26.8" y="134" text-anchor="end" style="font-family:&quot;Liberation Sans&quot;,sans-serif;font-weight:bold;font-size:12px">0.7</text>
<text x="26.8" y="167.8" text-anchor="end" style="font-family:&quot;Liberation Sans&quot;,sans-serif;font-weight:bold;font-size:12px">0.6</text>
<text x="26.8" y="201.6" text-anchor="end" style="font-family:&quot;Liberation Sans&quot;,sans-serif;font-weight:bold;font-size:12px">0.5</text>
<text x="40.8" y="233" text-anchor="middle" style="font-family:&quot;Liberation Sans&quot;,sans-serif;font-weight:bold;font-size:12px">80</text>
<text x="111.8" y="246.5" text-anchor="middle" style="font-family:&quot;Liberation Sans&quot;,sans-serif;font-weight:bold;font-size:12px">100</text>
<text x="182.4" y="258.5" text-anchor="middle" style="font-family:&quot;Liberation Sans&quot;,sans-serif;font-weight:bold;font-size:12px">120</text>
<text x="229" y="247.3" text-anchor="middle" style="font-family:&quot;Liberation Sans&quot;,sans-serif;font-weight:bold;font-size:12px">180</text>
<text x="247.4" y="226" text-anchor="middle" style="font-family:&quot;Liberation Sans&quot;,sans-serif;font-weight:bold;font-size:12px">195</text>
<text x="265.5" y="206.1" text-anchor="middle" style="font-family:&quot;Liberation Sans&quot;,sans-serif;font-weight:bold;font-size:12px">210</text>
<text x="283.5" y="185.3" text-anchor="middle" style="font-family:&quot;Liberation Sans&quot;,sans-serif;font-weight:bold;font-size:12px">225</text>
<text x="0" y="3.91" text-anchor="middle" style="font-family:&quot;Liberation Serif&quot;,serif;font-weight:bold;font-size:11.5px" transform="translate(5.2 184.2) rotate(-90)" textLength="27.5" lengthAdjust="spacingAndGlyphs">DGG</text>
<line x1="5.6" y1="163" x2="5.6" y2="136.4" class="ar"/>
<path d="M5.6,127.9L8.4,136.4L2.8,136.4Z" class="ah"/>
<text x="0" y="4.08" text-anchor="middle" style="font-family:&quot;Liberation Serif&quot;,serif;font-weight:bold;font-size:12px" transform="translate(109 257.3) rotate(10)"><tspan style="font-style:italic">I</tspan>(A)</text>
<line x1="121.6" y1="260.7" x2="139.01" y2="264.63" class="ar"/>
<path d="M147.3,266.5L138.39,267.36L139.62,261.9Z" class="ah"/>
<text x="0" y="3.74" text-anchor="middle" style="font-family:&quot;Liberation Serif&quot;,serif;font-weight:bold;font-size:11px" transform="translate(259.2 238) rotate(-47.8)">V(mm/min)</text>
<line x1="280" y1="215.9" x2="293.15" y2="199.18" class="ar"/>
<path d="M298.4,192.5L295.35,200.91L290.94,197.45Z" class="ah"/>
<text x="420.3" y="10" text-anchor="start" style="font-family:&quot;Liberation Serif&quot;,serif;font-weight:bold;font-size:11px">b) DGG VS I,N</text>
<text x="306.3" y="28.1" text-anchor="start" style="font-family:&quot;Liberation Serif&quot;,serif;font-weight:bold;font-size:11px">Hold Values</text>
<text x="306.3" y="42.5" text-anchor="start" style="font-family:&quot;Liberation Serif&quot;,serif;font-weight:bold;font-size:11px">V(mm/min):205</text>
<text x="306.3" y="57.2" text-anchor="start" style="font-family:&quot;Liberation Serif&quot;,serif;font-weight:bold;font-size:11px">GFR(l/min):9</text>
<text x="327.8" y="100.1" text-anchor="end" style="font-family:&quot;Liberation Sans&quot;,sans-serif;font-weight:bold;font-size:10px">0.8</text>
<text x="327.8" y="137" text-anchor="end" style="font-family:&quot;Liberation Sans&quot;,sans-serif;font-weight:bold;font-size:10px">0.7</text>
<text x="327.8" y="173.3" text-anchor="end" style="font-family:&quot;Liberation Sans&quot;,sans-serif;font-weight:bold;font-size:10px">0.6</text>
<text x="327.8" y="209.6" text-anchor="end" style="font-family:&quot;Liberation Sans&quot;,sans-serif;font-weight:bold;font-size:10px">0.5</text>
<text x="341.8" y="230.8" text-anchor="middle" style="font-family:&quot;Liberation Sans&quot;,sans-serif;font-weight:bold;font-size:10px">80</text>
<text x="411.4" y="243.8" text-anchor="middle" style="font-family:&quot;Liberation Sans&quot;,sans-serif;font-weight:bold;font-size:10px">100</text>
<text x="480" y="255.9" text-anchor="middle" style="font-family:&quot;Liberation Sans&quot;,sans-serif;font-weight:bold;font-size:10px">120</text>
<text x="524" y="245.6" text-anchor="middle" style="font-family:&quot;Liberation Sans&quot;,sans-serif;font-weight:bold;font-size:10px">2.0</text>
<text x="553.5" y="211.9" text-anchor="middle" style="font-family:&quot;Liberation Sans&quot;,sans-serif;font-weight:bold;font-size:10px">2.5</text>
<text x="582.5" y="179.1" text-anchor="middle" style="font-family:&quot;Liberation Sans&quot;,sans-serif;font-weight:bold;font-size:10px">3.0</text>
<text x="0" y="3.91" text-anchor="middle" style="font-family:&quot;Liberation Serif&quot;,serif;font-weight:bold;font-size:11.5px" transform="translate(308.2 169.6) rotate(-90)" textLength="28" lengthAdjust="spacingAndGlyphs">DGG</text>
<line x1="306.8" y1="148.8" x2="306.8" y2="123.1" class="ar"/>
<path d="M306.8,114.6L309.6,123.1L304,123.1Z" class="ah"/>
<text x="0" y="4.08" text-anchor="middle" style="font-family:&quot;Liberation Serif&quot;,serif;font-weight:bold;font-size:12px" transform="translate(409.8 254.8) rotate(10)"><tspan style="font-style:italic">I</tspan>(A)</text>
<line x1="424.6" y1="257.7" x2="454.48" y2="263.88" class="ar"/>
<path d="M462.8,265.6L453.91,266.62L455.04,261.14Z" class="ah"/>
<text x="0" y="3.74" text-anchor="middle" style="font-family:&quot;Liberation Serif&quot;,serif;font-weight:bold;font-size:11px" transform="translate(551.3 244.9) rotate(-48.5)">N(mm)</text>
<line x1="566.1" y1="227.5" x2="579.69" y2="208.87" class="ar"/>
<path d="M584.7,202L581.95,210.52L577.43,207.22Z" class="ah"/>
<text x="112.8" y="285" text-anchor="start" style="font-family:&quot;Liberation Serif&quot;,serif;font-weight:bold;font-size:11px">c) DGG VS V, GFR</text>
<text x="4.5" y="302.5" text-anchor="start" style="font-family:&quot;Liberation Serif&quot;,serif;font-weight:bold;font-size:11px">Hold Values</text>
<text x="4.5" y="317.4" text-anchor="start" style="font-family:&quot;Liberation Serif&quot;,serif;font-weight:bold;font-size:11px">I(A):100</text>
<text x="4.5" y="331.9" text-anchor="start" style="font-family:&quot;Liberation Serif&quot;,serif;font-weight:bold;font-size:11px">N(mm):2.5</text>
<text x="32" y="373.3" text-anchor="end" style="font-family:&quot;Liberation Sans&quot;,sans-serif;font-weight:bold;font-size:10px">0.70</text>
<text x="32" y="403.3" text-anchor="end" style="font-family:&quot;Liberation Sans&quot;,sans-serif;font-weight:bold;font-size:10px">0.65</text>
<text x="32" y="434" text-anchor="end" style="font-family:&quot;Liberation Sans&quot;,sans-serif;font-weight:bold;font-size:10px">0.60</text>
<text x="32" y="463.7" text-anchor="end" style="font-family:&quot;Liberation Sans&quot;,sans-serif;font-weight:bold;font-size:10px">0.55</text>
<text x="46.3" y="500" text-anchor="middle" style="font-family:&quot;Liberation Sans&quot;,sans-serif;font-weight:bold;font-size:10px">180</text>
<text x="87.3" y="507.1" text-anchor="middle" style="font-family:&quot;Liberation Sans&quot;,sans-serif;font-weight:bold;font-size:10px">195</text>
<text x="128.9" y="514.1" text-anchor="middle" style="font-family:&quot;Liberation Sans&quot;,sans-serif;font-weight:bold;font-size:10px">210</text>
<text x="170.3" y="521.6" text-anchor="middle" style="font-family:&quot;Liberation Sans&quot;,sans-serif;font-weight:bold;font-size:10px">225</text>
<text x="226.5" y="513.6" text-anchor="middle" style="font-family:&quot;Liberation Sans&quot;,sans-serif;font-weight:bold;font-size:10px">6</text>
<text x="246.6" y="492.5" text-anchor="middle" style="font-family:&quot;Liberation Sans&quot;,sans-serif;font-weight:bold;font-size:10px">8</text>
<text x="266.5" y="470.6" text-anchor="middle" style="font-family:&quot;Liberation Sans&quot;,sans-serif;font-weight:bold;font-size:10px">10</text>
<text x="285.7" y="448.7" text-anchor="middle" style="font-family:&quot;Liberation Sans&quot;,sans-serif;font-weight:bold;font-size:10px">12</text>
<text x="0" y="3.91" text-anchor="middle" style="font-family:&quot;Liberation Serif&quot;,serif;font-weight:bold;font-size:11.5px" transform="translate(4.9 433.5) rotate(-90)" textLength="27.5" lengthAdjust="spacingAndGlyphs">DGG</text>
<line x1="4.6" y1="409.7" x2="4.6" y2="383" class="ar"/>
<path d="M4.6,374.5L7.4,383L1.8,383Z" class="ah"/>
<text x="0" y="3.74" text-anchor="middle" style="font-family:&quot;Liberation Serif&quot;,serif;font-weight:bold;font-size:11px" transform="translate(99.9 520.5) rotate(10)">V(mm/min)</text>
<line x1="128.9" y1="526.3" x2="164.69" y2="534.01" class="ar"/>
<path d="M173,535.8L164.1,536.75L165.28,531.27Z" class="ah"/>
<text x="0" y="3.74" text-anchor="middle" style="font-family:&quot;Liberation Serif&quot;,serif;font-weight:bold;font-size:11px" transform="translate(254.4 503.1) rotate(-46.8)">GFR(l/min)</text>
<line x1="276.3" y1="478.6" x2="288.71" y2="464.4" class="ar"/>
<path d="M294.3,458L290.82,466.24L286.6,462.56Z" class="ah"/>
<text x="420.5" y="285" text-anchor="start" style="font-family:&quot;Liberation Serif&quot;,serif;font-weight:bold;font-size:11px" textLength="89.5" lengthAdjust="spacingAndGlyphs">d) DGG VS GFR, N</text>
<text x="303.8" y="304.6" text-anchor="start" style="font-family:&quot;Liberation Serif&quot;,serif;font-weight:bold;font-size:11px" textLength="55.3" lengthAdjust="spacingAndGlyphs">Hold Values</text>
<text x="303.8" y="318.7" text-anchor="start" style="font-family:&quot;Liberation Serif&quot;,serif;font-weight:bold;font-size:11px">I(A):100</text>
<text x="303.8" y="332.3" text-anchor="start" style="font-family:&quot;Liberation Serif&quot;,serif;font-weight:bold;font-size:11px" textLength="73.6" lengthAdjust="spacingAndGlyphs">V(Mm/min):205</text>
<text x="335.6" y="387.3" text-anchor="end" style="font-family:&quot;Liberation Sans&quot;,sans-serif;font-weight:bold;font-size:10px">0.70</text>
<text x="335.6" y="420.1" text-anchor="end" style="font-family:&quot;Liberation Sans&quot;,sans-serif;font-weight:bold;font-size:10px">0.65</text>
<text x="335.6" y="453.6" text-anchor="end" style="font-family:&quot;Liberation Sans&quot;,sans-serif;font-weight:bold;font-size:10px">0.60</text>
<text x="335.6" y="486.3" text-anchor="end" style="font-family:&quot;Liberation Sans&quot;,sans-serif;font-weight:bold;font-size:10px">0.55</text>
<text x="349.2" y="503.8" text-anchor="middle" style="font-family:&quot;Liberation Sans&quot;,sans-serif;font-weight:bold;font-size:10px">6</text>
<text x="396.3" y="512.9" text-anchor="middle" style="font-family:&quot;Liberation Sans&quot;,sans-serif;font-weight:bold;font-size:10px">8</text>
<text x="443.7" y="520.8" text-anchor="middle" style="font-family:&quot;Liberation Sans&quot;,sans-serif;font-weight:bold;font-size:10px">10</text>
<text x="490.3" y="529.4" text-anchor="middle" style="font-family:&quot;Liberation Sans&quot;,sans-serif;font-weight:bold;font-size:10px">12</text>
<text x="534.2" y="518.5" text-anchor="middle" style="font-family:&quot;Liberation Sans&quot;,sans-serif;font-weight:bold;font-size:10px">2.0</text>
<text x="564" y="486.6" text-anchor="middle" style="font-family:&quot;Liberation Sans&quot;,sans-serif;font-weight:bold;font-size:10px">2.5</text>
<text x="594" y="452" text-anchor="middle" style="font-family:&quot;Liberation Sans&quot;,sans-serif;font-weight:bold;font-size:10px">3.0</text>
<text x="0" y="3.91" text-anchor="middle" style="font-family:&quot;Liberation Serif&quot;,serif;font-weight:bold;font-size:11.5px" transform="translate(308.5 457) rotate(-90)" textLength="26.5" lengthAdjust="spacingAndGlyphs">DGG</text>
<line x1="307.7" y1="433.5" x2="307.7" y2="411.1" class="ar"/>
<path d="M307.7,402.6L310.5,411.1L304.9,411.1Z" class="ah"/>
<text x="0" y="3.74" text-anchor="middle" style="font-family:&quot;Liberation Serif&quot;,serif;font-weight:bold;font-size:11px" transform="translate(396 521.8) rotate(10)">GFR(l/min)</text>
<line x1="426.3" y1="527.6" x2="456.69" y2="534.2" class="ar"/>
<path d="M465,536L456.1,536.93L457.29,531.46Z" class="ah"/>
<text x="0" y="3.74" text-anchor="middle" style="font-family:&quot;Liberation Serif&quot;,serif;font-weight:bold;font-size:11px" transform="translate(559.4 509) rotate(-45.8)">N(mm)</text>
<line x1="575.2" y1="490.3" x2="589.24" y2="472.48" class="ar"/>
<path d="M594.5,465.8L591.44,474.21L587.04,470.74Z" class="ah"/>
</svg></body></html>
